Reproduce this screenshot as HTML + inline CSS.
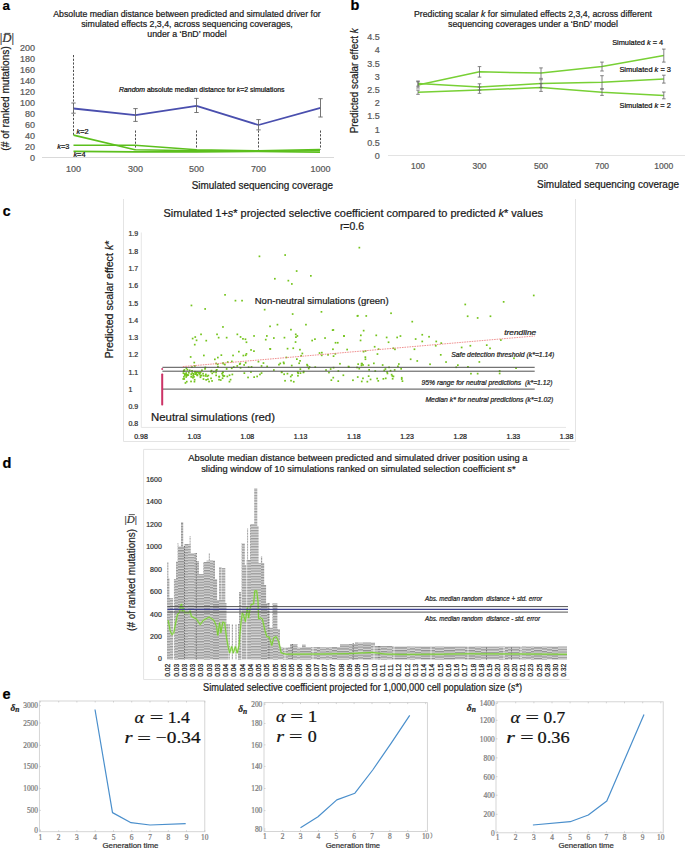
<!DOCTYPE html>
<html><head><meta charset="utf-8"><style>
html,body{margin:0;padding:0;background:#fff;}
svg{display:block;}

</style></head><body>
<svg width="685" height="850" viewBox="0 0 685 850" font-family="&quot;Liberation Sans&quot;, sans-serif">
<rect width="685" height="850" fill="#fff"/>
<text x="2.5" y="10.0" font-size="13.3" fill="#000" font-weight="bold"  stroke="#000" stroke-width="0.22">a</text>
<text x="350.5" y="9.9" font-size="14.5" fill="#000" font-weight="bold"  stroke="#000" stroke-width="0.22">b</text>
<text x="2.7" y="215.5" font-size="14" fill="#000" font-weight="bold"  stroke="#000" stroke-width="0.22">c</text>
<text x="2.5" y="468.3" font-size="14.5" fill="#000" font-weight="bold"  stroke="#000" stroke-width="0.22">d</text>
<text x="2.5" y="699.0" font-size="14.5" fill="#000" font-weight="bold"  stroke="#000" stroke-width="0.22">e</text>
<text x="187.0" y="17.0" font-size="8.8" fill="#1a1a1a" text-anchor="middle" textLength="267.4" lengthAdjust="spacingAndGlyphs"  stroke="#1a1a1a" stroke-width="0.22">Absolute median distance between predicted and simulated driver for</text>
<text x="187.0" y="27.3" font-size="8.8" fill="#1a1a1a" text-anchor="middle"  stroke="#1a1a1a" stroke-width="0.22">simulated effects 2,3,4, across sequencing coverages,</text>
<text x="187.0" y="36.7" font-size="8.8" fill="#1a1a1a" text-anchor="middle"  stroke="#1a1a1a" stroke-width="0.22">under a ‘BnD’ model</text>
<text x="35.0" y="161.2" font-size="9" fill="#595959" text-anchor="end"  stroke="#595959" stroke-width="0.22">0</text>
<text x="35.0" y="150.2" font-size="9" fill="#595959" text-anchor="end"  stroke="#595959" stroke-width="0.22">20</text>
<text x="35.0" y="139.2" font-size="9" fill="#595959" text-anchor="end"  stroke="#595959" stroke-width="0.22">40</text>
<text x="35.0" y="128.2" font-size="9" fill="#595959" text-anchor="end"  stroke="#595959" stroke-width="0.22">60</text>
<text x="35.0" y="117.2" font-size="9" fill="#595959" text-anchor="end"  stroke="#595959" stroke-width="0.22">80</text>
<text x="35.0" y="106.2" font-size="9" fill="#595959" text-anchor="end"  stroke="#595959" stroke-width="0.22">100</text>
<text x="35.0" y="95.2" font-size="9" fill="#595959" text-anchor="end"  stroke="#595959" stroke-width="0.22">120</text>
<text x="35.0" y="84.2" font-size="9" fill="#595959" text-anchor="end"  stroke="#595959" stroke-width="0.22">140</text>
<text x="35.0" y="73.2" font-size="9" fill="#595959" text-anchor="end"  stroke="#595959" stroke-width="0.22">160</text>
<text x="35.0" y="62.2" font-size="9" fill="#595959" text-anchor="end"  stroke="#595959" stroke-width="0.22">180</text>
<text x="35.0" y="51.2" font-size="9" fill="#595959" text-anchor="end"  stroke="#595959" stroke-width="0.22">200</text>
<line x1="42.0" y1="157.5" x2="334.0" y2="157.5" stroke="#d9d9d9" stroke-width="1" />
<text x="73.5" y="171.8" font-size="9" fill="#595959" text-anchor="middle"  stroke="#595959" stroke-width="0.22">100</text>
<text x="135.5" y="171.8" font-size="9" fill="#595959" text-anchor="middle"  stroke="#595959" stroke-width="0.22">300</text>
<text x="196.5" y="171.8" font-size="9" fill="#595959" text-anchor="middle"  stroke="#595959" stroke-width="0.22">500</text>
<text x="258.5" y="171.8" font-size="9" fill="#595959" text-anchor="middle"  stroke="#595959" stroke-width="0.22">700</text>
<text x="320.5" y="171.8" font-size="9" fill="#595959" text-anchor="middle"  stroke="#595959" stroke-width="0.22">1000</text>
<text x="262.3" y="189.0" font-size="10" fill="#1a1a1a" text-anchor="middle" textLength="141.3" lengthAdjust="spacingAndGlyphs"  stroke="#1a1a1a" stroke-width="0.22">Simulated sequencing coverage</text>
<text transform="translate(9.0,98.4) rotate(-90)" font-size="11" fill="#1a1a1a" text-anchor="middle" textLength="104.5" lengthAdjust="spacingAndGlyphs" stroke="#1a1a1a" stroke-width="0.22">(# of ranked mutations)</text>
<text x="-0.3" y="42" font-size="12" fill="#333" font-family='"Liberation Serif", serif' textLength="14.3" lengthAdjust="spacingAndGlyphs" stroke="#333" stroke-width="0.22">|<tspan font-style="italic">D</tspan>|</text>
<line x1="4.6" y1="33.4" x2="10.4" y2="33.4" stroke="#333" stroke-width="0.9" />
<text x="119" y="92" font-size="6.6" fill="#111" textLength="165.5" lengthAdjust="spacingAndGlyphs" stroke="#111" stroke-width="0.22"><tspan font-style="italic">Random</tspan> absolute median distance for <tspan font-style="italic">k</tspan>=2 simulations</text>
<line x1="73.5" y1="55.0" x2="73.5" y2="135.0" stroke="#3a3a3a" stroke-width="0.9" stroke-dasharray="2.2,1.5"/>
<line x1="135.5" y1="130.5" x2="135.5" y2="149.5" stroke="#3a3a3a" stroke-width="0.9" stroke-dasharray="2.2,1.5"/>
<line x1="196.5" y1="130.5" x2="196.5" y2="149.5" stroke="#3a3a3a" stroke-width="0.9" stroke-dasharray="2.2,1.5"/>
<line x1="258.5" y1="130.5" x2="258.5" y2="149.5" stroke="#3a3a3a" stroke-width="0.9" stroke-dasharray="2.2,1.5"/>
<line x1="320.5" y1="130.5" x2="320.5" y2="149.5" stroke="#3a3a3a" stroke-width="0.9" stroke-dasharray="2.2,1.5"/>
<polyline points="73.5,135.1 135.0,149.8 196.5,150.8 258.2,151.1 320.0,150.8" fill="none" stroke="#5cbf1d" stroke-width="1.6" stroke-linejoin="round" />
<polyline points="73.5,145.3 135.0,145.3 196.5,149.8 258.2,150.8 320.0,149.5" fill="none" stroke="#5cbf1d" stroke-width="1.6" stroke-linejoin="round" />
<polyline points="73.5,151.4 135.0,151.9 196.5,151.9 258.2,151.4 320.0,152.2" fill="none" stroke="#5cbf1d" stroke-width="1.6" stroke-linejoin="round" />
<polyline points="73.5,108.5 135.5,115.1 196.5,105.8 258.5,125.0 320.5,107.9" fill="none" stroke="#4a4fae" stroke-width="1.8" stroke-linejoin="round" />
<line x1="73.5" y1="103.0" x2="73.5" y2="113.2" stroke="#666" stroke-width="0.9" />
<line x1="71.3" y1="103.0" x2="75.7" y2="103.0" stroke="#666" stroke-width="0.9" />
<line x1="71.3" y1="113.2" x2="75.7" y2="113.2" stroke="#666" stroke-width="0.9" />
<line x1="135.5" y1="108.6" x2="135.5" y2="121.4" stroke="#666" stroke-width="0.9" />
<line x1="133.3" y1="108.6" x2="137.7" y2="108.6" stroke="#666" stroke-width="0.9" />
<line x1="133.3" y1="121.4" x2="137.7" y2="121.4" stroke="#666" stroke-width="0.9" />
<line x1="196.5" y1="98.4" x2="196.5" y2="112.5" stroke="#666" stroke-width="0.9" />
<line x1="194.3" y1="98.4" x2="198.7" y2="98.4" stroke="#666" stroke-width="0.9" />
<line x1="194.3" y1="112.5" x2="198.7" y2="112.5" stroke="#666" stroke-width="0.9" />
<line x1="258.5" y1="119.6" x2="258.5" y2="129.9" stroke="#666" stroke-width="0.9" />
<line x1="256.3" y1="119.6" x2="260.7" y2="119.6" stroke="#666" stroke-width="0.9" />
<line x1="256.3" y1="129.9" x2="260.7" y2="129.9" stroke="#666" stroke-width="0.9" />
<line x1="320.5" y1="98.7" x2="320.5" y2="117.0" stroke="#666" stroke-width="0.9" />
<line x1="318.3" y1="98.7" x2="322.7" y2="98.7" stroke="#666" stroke-width="0.9" />
<line x1="318.3" y1="117.0" x2="322.7" y2="117.0" stroke="#666" stroke-width="0.9" />
<text x="76.5" y="134.2" font-size="7.4" fill="#111" stroke="#111" stroke-width="0.22"><tspan font-style="italic">k</tspan>=2</text>
<text x="57.3" y="149.4" font-size="7.4" fill="#111" stroke="#111" stroke-width="0.22"><tspan font-style="italic">k</tspan>=3</text>
<text x="73.4" y="157.2" font-size="7.4" fill="#111" stroke="#111" stroke-width="0.22"><tspan font-style="italic">k</tspan>=4</text>
<text x="533.0" y="16.6" font-size="8.8" fill="#1a1a1a" text-anchor="middle" textLength="238.0" lengthAdjust="spacingAndGlyphs"  stroke="#1a1a1a" stroke-width="0.22">Predicting scalar <tspan font-style="italic">k</tspan> for simulated effects 2,3,4, across different</text>
<text x="533.0" y="26.6" font-size="8.8" fill="#1a1a1a" text-anchor="middle"  stroke="#1a1a1a" stroke-width="0.22">sequencing coverages under a ‘BnD’ model</text>
<text x="379.7" y="158.9" font-size="9" fill="#595959" text-anchor="end"  stroke="#595959" stroke-width="0.22">0</text>
<text x="379.7" y="145.7" font-size="9" fill="#595959" text-anchor="end"  stroke="#595959" stroke-width="0.22">0.5</text>
<text x="379.7" y="132.5" font-size="9" fill="#595959" text-anchor="end"  stroke="#595959" stroke-width="0.22">1</text>
<text x="379.7" y="119.3" font-size="9" fill="#595959" text-anchor="end"  stroke="#595959" stroke-width="0.22">1.5</text>
<text x="379.7" y="106.1" font-size="9" fill="#595959" text-anchor="end"  stroke="#595959" stroke-width="0.22">2</text>
<text x="379.7" y="92.9" font-size="9" fill="#595959" text-anchor="end"  stroke="#595959" stroke-width="0.22">2.5</text>
<text x="379.7" y="79.7" font-size="9" fill="#595959" text-anchor="end"  stroke="#595959" stroke-width="0.22">3</text>
<text x="379.7" y="66.5" font-size="9" fill="#595959" text-anchor="end"  stroke="#595959" stroke-width="0.22">3.5</text>
<text x="379.7" y="53.3" font-size="9" fill="#595959" text-anchor="end"  stroke="#595959" stroke-width="0.22">4</text>
<text x="379.7" y="40.1" font-size="9" fill="#595959" text-anchor="end"  stroke="#595959" stroke-width="0.22">4.5</text>
<line x1="388.0" y1="155.5" x2="685.0" y2="155.5" stroke="#e3e3e3" stroke-width="1" />
<text x="418.0" y="169.0" font-size="8.5" fill="#595959" text-anchor="middle"  stroke="#595959" stroke-width="0.22">100</text>
<text x="479.5" y="169.0" font-size="8.5" fill="#595959" text-anchor="middle"  stroke="#595959" stroke-width="0.22">300</text>
<text x="541.0" y="169.0" font-size="8.5" fill="#595959" text-anchor="middle"  stroke="#595959" stroke-width="0.22">500</text>
<text x="602.0" y="169.0" font-size="8.5" fill="#595959" text-anchor="middle"  stroke="#595959" stroke-width="0.22">700</text>
<text x="663.8" y="169.0" font-size="8.5" fill="#595959" text-anchor="middle"  stroke="#595959" stroke-width="0.22">1000</text>
<text x="608.0" y="187.5" font-size="10" fill="#1a1a1a" text-anchor="middle" textLength="142.0" lengthAdjust="spacingAndGlyphs"  stroke="#1a1a1a" stroke-width="0.22">Simulated sequencing coverage</text>
<text transform="translate(358.1,80.8) rotate(-90)" font-size="10" fill="#1a1a1a" text-anchor="middle" textLength="105" lengthAdjust="spacingAndGlyphs" stroke="#1a1a1a" stroke-width="0.22">Predicted scalar effect <tspan font-style="italic">k</tspan></text>
<polyline points="418.0,84.9 479.5,71.8 541.0,73.1 602.0,66.6 663.8,55.6" fill="none" stroke="#78d035" stroke-width="1.5" stroke-linejoin="round" />
<polyline points="418.0,83.6 479.5,87.0 541.0,83.6 602.0,82.3 663.8,79.1" fill="none" stroke="#78d035" stroke-width="1.5" stroke-linejoin="round" />
<polyline points="418.0,92.2 479.5,90.1 541.0,87.5 602.0,92.2 663.8,95.4" fill="none" stroke="#78d035" stroke-width="1.5" stroke-linejoin="round" />
<line x1="418.0" y1="81.8" x2="418.0" y2="88.0" stroke="#666" stroke-width="0.8" />
<line x1="416.2" y1="81.8" x2="419.8" y2="81.8" stroke="#666" stroke-width="0.8" />
<line x1="416.2" y1="88.0" x2="419.8" y2="88.0" stroke="#666" stroke-width="0.8" />
<line x1="479.5" y1="66.6" x2="479.5" y2="77.1" stroke="#666" stroke-width="0.8" />
<line x1="477.7" y1="66.6" x2="481.3" y2="66.6" stroke="#666" stroke-width="0.8" />
<line x1="477.7" y1="77.1" x2="481.3" y2="77.1" stroke="#666" stroke-width="0.8" />
<line x1="541.0" y1="67.9" x2="541.0" y2="78.4" stroke="#666" stroke-width="0.8" />
<line x1="539.2" y1="67.9" x2="542.8" y2="67.9" stroke="#666" stroke-width="0.8" />
<line x1="539.2" y1="78.4" x2="542.8" y2="78.4" stroke="#666" stroke-width="0.8" />
<line x1="602.0" y1="62.1" x2="602.0" y2="71.0" stroke="#666" stroke-width="0.8" />
<line x1="600.2" y1="62.1" x2="603.8" y2="62.1" stroke="#666" stroke-width="0.8" />
<line x1="600.2" y1="71.0" x2="603.8" y2="71.0" stroke="#666" stroke-width="0.8" />
<line x1="663.8" y1="49.1" x2="663.8" y2="62.1" stroke="#666" stroke-width="0.8" />
<line x1="662.0" y1="49.1" x2="665.6" y2="49.1" stroke="#666" stroke-width="0.8" />
<line x1="662.0" y1="62.1" x2="665.6" y2="62.1" stroke="#666" stroke-width="0.8" />
<line x1="418.0" y1="81.0" x2="418.0" y2="86.2" stroke="#666" stroke-width="0.8" />
<line x1="416.2" y1="81.0" x2="419.8" y2="81.0" stroke="#666" stroke-width="0.8" />
<line x1="416.2" y1="86.2" x2="419.8" y2="86.2" stroke="#666" stroke-width="0.8" />
<line x1="479.5" y1="83.8" x2="479.5" y2="90.1" stroke="#666" stroke-width="0.8" />
<line x1="477.7" y1="83.8" x2="481.3" y2="83.8" stroke="#666" stroke-width="0.8" />
<line x1="477.7" y1="90.1" x2="481.3" y2="90.1" stroke="#666" stroke-width="0.8" />
<line x1="541.0" y1="79.7" x2="541.0" y2="87.5" stroke="#666" stroke-width="0.8" />
<line x1="539.2" y1="79.7" x2="542.8" y2="79.7" stroke="#666" stroke-width="0.8" />
<line x1="539.2" y1="87.5" x2="542.8" y2="87.5" stroke="#666" stroke-width="0.8" />
<line x1="602.0" y1="75.7" x2="602.0" y2="88.8" stroke="#666" stroke-width="0.8" />
<line x1="600.2" y1="75.7" x2="603.8" y2="75.7" stroke="#666" stroke-width="0.8" />
<line x1="600.2" y1="88.8" x2="603.8" y2="88.8" stroke="#666" stroke-width="0.8" />
<line x1="663.8" y1="75.2" x2="663.8" y2="83.1" stroke="#666" stroke-width="0.8" />
<line x1="662.0" y1="75.2" x2="665.6" y2="75.2" stroke="#666" stroke-width="0.8" />
<line x1="662.0" y1="83.1" x2="665.6" y2="83.1" stroke="#666" stroke-width="0.8" />
<line x1="418.0" y1="90.1" x2="418.0" y2="94.3" stroke="#666" stroke-width="0.8" />
<line x1="416.2" y1="90.1" x2="419.8" y2="90.1" stroke="#666" stroke-width="0.8" />
<line x1="416.2" y1="94.3" x2="419.8" y2="94.3" stroke="#666" stroke-width="0.8" />
<line x1="479.5" y1="87.0" x2="479.5" y2="93.3" stroke="#666" stroke-width="0.8" />
<line x1="477.7" y1="87.0" x2="481.3" y2="87.0" stroke="#666" stroke-width="0.8" />
<line x1="477.7" y1="93.3" x2="481.3" y2="93.3" stroke="#666" stroke-width="0.8" />
<line x1="541.0" y1="83.6" x2="541.0" y2="91.4" stroke="#666" stroke-width="0.8" />
<line x1="539.2" y1="83.6" x2="542.8" y2="83.6" stroke="#666" stroke-width="0.8" />
<line x1="539.2" y1="91.4" x2="542.8" y2="91.4" stroke="#666" stroke-width="0.8" />
<line x1="602.0" y1="89.1" x2="602.0" y2="95.4" stroke="#666" stroke-width="0.8" />
<line x1="600.2" y1="89.1" x2="603.8" y2="89.1" stroke="#666" stroke-width="0.8" />
<line x1="600.2" y1="95.4" x2="603.8" y2="95.4" stroke="#666" stroke-width="0.8" />
<line x1="663.8" y1="92.0" x2="663.8" y2="98.8" stroke="#666" stroke-width="0.8" />
<line x1="662.0" y1="92.0" x2="665.6" y2="92.0" stroke="#666" stroke-width="0.8" />
<line x1="662.0" y1="98.8" x2="665.6" y2="98.8" stroke="#666" stroke-width="0.8" />
<text x="612.2" y="45.4" font-size="7.4" fill="#111" textLength="51" lengthAdjust="spacingAndGlyphs" stroke="#111" stroke-width="0.22">Simulated <tspan font-style="italic">k</tspan> = 4</text>
<text x="619.4" y="72.2" font-size="7.4" fill="#111" textLength="51.6" lengthAdjust="spacingAndGlyphs" stroke="#111" stroke-width="0.22">Simulated <tspan font-style="italic">k</tspan> = 3</text>
<text x="619.5" y="108.3" font-size="7.4" fill="#111" textLength="51.3" lengthAdjust="spacingAndGlyphs" stroke="#111" stroke-width="0.22">Simulated <tspan font-style="italic">k</tspan> = 2</text>
<path d="M123.5,199 V441.5 H575.5 V199" fill="none" stroke="#e4e4e4" stroke-width="1"/>
<text x="353.3" y="217.0" font-size="10.5" fill="#1a1a1a" text-anchor="middle" textLength="379.5" lengthAdjust="spacingAndGlyphs"  stroke="#1a1a1a" stroke-width="0.22">Simulated 1+<tspan font-style="italic">s</tspan>* projected selective coefficient compared to predicted <tspan font-style="italic">k</tspan>* values</text>
<text x="352.0" y="230.2" font-size="10.5" fill="#1a1a1a" text-anchor="middle"  stroke="#1a1a1a" stroke-width="0.22">r=0.6</text>
<text x="128.4" y="426.4" font-size="7" fill="#333"  stroke="#333" stroke-width="0.22">0.8</text>
<text x="128.4" y="409.1" font-size="7" fill="#333"  stroke="#333" stroke-width="0.22">0.9</text>
<text x="128.4" y="391.9" font-size="7" fill="#333"  stroke="#333" stroke-width="0.22">1</text>
<text x="128.4" y="374.6" font-size="7" fill="#333"  stroke="#333" stroke-width="0.22">1.1</text>
<text x="128.4" y="357.3" font-size="7" fill="#333"  stroke="#333" stroke-width="0.22">1.2</text>
<text x="128.4" y="340.0" font-size="7" fill="#333"  stroke="#333" stroke-width="0.22">1.3</text>
<text x="128.4" y="322.8" font-size="7" fill="#333"  stroke="#333" stroke-width="0.22">1.4</text>
<text x="128.4" y="305.5" font-size="7" fill="#333"  stroke="#333" stroke-width="0.22">1.5</text>
<text x="128.4" y="288.2" font-size="7" fill="#333"  stroke="#333" stroke-width="0.22">1.6</text>
<text x="128.4" y="271.0" font-size="7" fill="#333"  stroke="#333" stroke-width="0.22">1.7</text>
<text x="128.4" y="253.7" font-size="7" fill="#333"  stroke="#333" stroke-width="0.22">1.8</text>
<text x="128.4" y="236.4" font-size="7" fill="#333"  stroke="#333" stroke-width="0.22">1.9</text>
<line x1="141.3" y1="232.5" x2="141.3" y2="427.5" stroke="#e6e6e6" stroke-width="1" />
<line x1="141.3" y1="427.4" x2="566.0" y2="427.4" stroke="#e6e6e6" stroke-width="1" />
<text x="141.0" y="438.8" font-size="7" fill="#222" text-anchor="middle"  stroke="#222" stroke-width="0.22">0.98</text>
<text x="194.2" y="438.8" font-size="7" fill="#222" text-anchor="middle"  stroke="#222" stroke-width="0.22">1.03</text>
<text x="247.4" y="438.8" font-size="7" fill="#222" text-anchor="middle"  stroke="#222" stroke-width="0.22">1.08</text>
<text x="300.6" y="438.8" font-size="7" fill="#222" text-anchor="middle"  stroke="#222" stroke-width="0.22">1.13</text>
<text x="353.8" y="438.8" font-size="7" fill="#222" text-anchor="middle"  stroke="#222" stroke-width="0.22">1.18</text>
<text x="407.0" y="438.8" font-size="7" fill="#222" text-anchor="middle"  stroke="#222" stroke-width="0.22">1.23</text>
<text x="460.2" y="438.8" font-size="7" fill="#222" text-anchor="middle"  stroke="#222" stroke-width="0.22">1.28</text>
<text x="513.4" y="438.8" font-size="7" fill="#222" text-anchor="middle"  stroke="#222" stroke-width="0.22">1.33</text>
<text x="566.6" y="438.8" font-size="7" fill="#222" text-anchor="middle"  stroke="#222" stroke-width="0.22">1.38</text>
<text transform="translate(113.2,299.6) rotate(-90)" font-size="10.6" fill="#1a1a1a" text-anchor="middle" textLength="118" lengthAdjust="spacingAndGlyphs" stroke="#1a1a1a" stroke-width="0.22">Predicted scalar effect <tspan font-style="italic">k</tspan>*</text>
<g fill="#74c41c"><rect x="258.6" y="255.5" width="1.7" height="1.7"/><rect x="284.3" y="254.2" width="1.7" height="1.7"/><rect x="295.8" y="270.2" width="1.7" height="1.7"/><rect x="310.0" y="275.0" width="1.7" height="1.7"/><rect x="274.0" y="277.9" width="1.7" height="1.7"/><rect x="287.5" y="279.8" width="1.7" height="1.7"/><rect x="291.0" y="283.1" width="1.7" height="1.7"/><rect x="358.5" y="246.8" width="1.7" height="1.7"/><rect x="224.2" y="294.0" width="1.7" height="1.7"/><rect x="234.6" y="299.8" width="1.7" height="1.7"/><rect x="241.2" y="299.8" width="1.7" height="1.7"/><rect x="190.6" y="304.6" width="1.7" height="1.7"/><rect x="204.3" y="308.1" width="1.7" height="1.7"/><rect x="263.8" y="308.8" width="1.7" height="1.7"/><rect x="291.8" y="313.2" width="1.7" height="1.7"/><rect x="320.6" y="311.0" width="1.7" height="1.7"/><rect x="356.9" y="314.9" width="1.7" height="1.7"/><rect x="222.1" y="326.1" width="1.7" height="1.7"/><rect x="269.2" y="325.5" width="1.7" height="1.7"/><rect x="276.6" y="323.8" width="1.7" height="1.7"/><rect x="305.1" y="323.8" width="1.7" height="1.7"/><rect x="290.1" y="328.8" width="1.7" height="1.7"/><rect x="331.8" y="329.3" width="1.7" height="1.7"/><rect x="200.2" y="333.5" width="1.7" height="1.7"/><rect x="216.2" y="333.5" width="1.7" height="1.7"/><rect x="217.8" y="336.8" width="1.7" height="1.7"/><rect x="225.8" y="336.8" width="1.7" height="1.7"/><rect x="236.5" y="333.5" width="1.7" height="1.7"/><rect x="239.7" y="336.1" width="1.7" height="1.7"/><rect x="253.2" y="335.1" width="1.7" height="1.7"/><rect x="266.0" y="335.1" width="1.7" height="1.7"/><rect x="283.6" y="336.8" width="1.7" height="1.7"/><rect x="294.9" y="333.5" width="1.7" height="1.7"/><rect x="296.5" y="335.1" width="1.7" height="1.7"/><rect x="314.1" y="338.3" width="1.7" height="1.7"/><rect x="343.1" y="335.1" width="1.7" height="1.7"/><rect x="464.4" y="303.6" width="1.7" height="1.7"/><rect x="502.8" y="301.0" width="1.7" height="1.7"/><rect x="532.9" y="294.6" width="1.7" height="1.7"/><rect x="466.8" y="315.4" width="1.7" height="1.7"/><rect x="476.8" y="317.1" width="1.7" height="1.7"/><rect x="489.6" y="315.4" width="1.7" height="1.7"/><rect x="356.6" y="315.1" width="1.7" height="1.7"/><rect x="365.4" y="315.1" width="1.7" height="1.7"/><rect x="390.2" y="312.4" width="1.7" height="1.7"/><rect x="411.4" y="320.8" width="1.7" height="1.7"/><rect x="332.5" y="329.1" width="1.7" height="1.7"/><rect x="343.2" y="335.2" width="1.7" height="1.7"/><rect x="362.8" y="329.8" width="1.7" height="1.7"/><rect x="360.0" y="334.5" width="1.7" height="1.7"/><rect x="375.4" y="334.5" width="1.7" height="1.7"/><rect x="396.3" y="336.6" width="1.7" height="1.7"/><rect x="399.6" y="335.2" width="1.7" height="1.7"/><rect x="421.4" y="333.9" width="1.7" height="1.7"/><rect x="428.2" y="335.9" width="1.7" height="1.7"/><rect x="414.8" y="338.2" width="1.7" height="1.7"/><rect x="421.4" y="340.6" width="1.7" height="1.7"/><rect x="434.9" y="344.9" width="1.7" height="1.7"/><rect x="439.9" y="354.0" width="1.7" height="1.7"/><rect x="460.8" y="346.6" width="1.7" height="1.7"/><rect x="469.5" y="344.9" width="1.7" height="1.7"/><rect x="485.9" y="344.3" width="1.7" height="1.7"/><rect x="409.8" y="358.4" width="1.7" height="1.7"/><rect x="416.4" y="360.1" width="1.7" height="1.7"/><rect x="429.2" y="363.4" width="1.7" height="1.7"/><rect x="478.5" y="361.1" width="1.7" height="1.7"/><rect x="513.1" y="357.4" width="1.7" height="1.7"/><rect x="470.1" y="372.8" width="1.7" height="1.7"/><rect x="476.8" y="372.8" width="1.7" height="1.7"/><rect x="498.8" y="370.1" width="1.7" height="1.7"/><rect x="498.8" y="372.6" width="1.7" height="1.7"/><rect x="192.1" y="376.9" width="1.7" height="1.7"/><rect x="183.4" y="378.1" width="1.7" height="1.7"/><rect x="202.2" y="372.8" width="1.7" height="1.7"/><rect x="200.7" y="374.6" width="1.7" height="1.7"/><rect x="182.6" y="372.3" width="1.7" height="1.7"/><rect x="183.8" y="374.2" width="1.7" height="1.7"/><rect x="196.6" y="374.6" width="1.7" height="1.7"/><rect x="188.0" y="371.9" width="1.7" height="1.7"/><rect x="207.1" y="378.4" width="1.7" height="1.7"/><rect x="195.3" y="372.0" width="1.7" height="1.7"/><rect x="228.6" y="380.8" width="1.7" height="1.7"/><rect x="190.6" y="375.8" width="1.7" height="1.7"/><rect x="185.3" y="376.1" width="1.7" height="1.7"/><rect x="218.3" y="375.9" width="1.7" height="1.7"/><rect x="186.5" y="368.9" width="1.7" height="1.7"/><rect x="194.2" y="371.0" width="1.7" height="1.7"/><rect x="202.8" y="374.9" width="1.7" height="1.7"/><rect x="187.4" y="374.2" width="1.7" height="1.7"/><rect x="210.1" y="370.7" width="1.7" height="1.7"/><rect x="204.8" y="375.1" width="1.7" height="1.7"/><rect x="198.0" y="371.6" width="1.7" height="1.7"/><rect x="211.2" y="380.1" width="1.7" height="1.7"/><rect x="188.8" y="369.5" width="1.7" height="1.7"/><rect x="222.0" y="371.6" width="1.7" height="1.7"/><rect x="213.0" y="371.1" width="1.7" height="1.7"/><rect x="184.6" y="382.1" width="1.7" height="1.7"/><rect x="196.3" y="373.7" width="1.7" height="1.7"/><rect x="199.8" y="371.5" width="1.7" height="1.7"/><rect x="182.7" y="370.5" width="1.7" height="1.7"/><rect x="204.2" y="368.0" width="1.7" height="1.7"/><rect x="222.0" y="371.4" width="1.7" height="1.7"/><rect x="205.3" y="379.0" width="1.7" height="1.7"/><rect x="204.5" y="366.6" width="1.7" height="1.7"/><rect x="226.5" y="375.6" width="1.7" height="1.7"/><rect x="199.0" y="373.0" width="1.7" height="1.7"/><rect x="211.4" y="372.5" width="1.7" height="1.7"/><rect x="208.2" y="380.7" width="1.7" height="1.7"/><rect x="190.4" y="373.3" width="1.7" height="1.7"/><rect x="194.8" y="373.3" width="1.7" height="1.7"/><rect x="198.4" y="372.9" width="1.7" height="1.7"/><rect x="186.1" y="374.6" width="1.7" height="1.7"/><rect x="215.3" y="374.5" width="1.7" height="1.7"/><rect x="184.9" y="373.7" width="1.7" height="1.7"/><rect x="221.7" y="377.4" width="1.7" height="1.7"/><rect x="183.6" y="369.1" width="1.7" height="1.7"/><rect x="222.5" y="375.2" width="1.7" height="1.7"/><rect x="218.5" y="375.7" width="1.7" height="1.7"/><rect x="196.2" y="371.3" width="1.7" height="1.7"/><rect x="193.6" y="380.8" width="1.7" height="1.7"/><rect x="185.6" y="367.3" width="1.7" height="1.7"/><rect x="186.4" y="374.0" width="1.7" height="1.7"/><rect x="199.6" y="376.4" width="1.7" height="1.7"/><rect x="205.0" y="373.6" width="1.7" height="1.7"/><rect x="196.3" y="374.0" width="1.7" height="1.7"/><rect x="194.0" y="365.1" width="1.7" height="1.7"/><rect x="210.7" y="369.8" width="1.7" height="1.7"/><rect x="201.1" y="369.4" width="1.7" height="1.7"/><rect x="183.0" y="369.8" width="1.7" height="1.7"/><rect x="223.5" y="375.1" width="1.7" height="1.7"/><rect x="217.1" y="366.0" width="1.7" height="1.7"/><rect x="195.1" y="372.2" width="1.7" height="1.7"/><rect x="207.5" y="374.7" width="1.7" height="1.7"/><rect x="183.1" y="376.0" width="1.7" height="1.7"/><rect x="185.9" y="374.7" width="1.7" height="1.7"/><rect x="192.8" y="373.7" width="1.7" height="1.7"/><rect x="185.6" y="373.7" width="1.7" height="1.7"/><rect x="184.1" y="373.1" width="1.7" height="1.7"/><rect x="221.9" y="374.3" width="1.7" height="1.7"/><rect x="206.4" y="375.4" width="1.7" height="1.7"/><rect x="193.1" y="376.0" width="1.7" height="1.7"/><rect x="193.8" y="378.9" width="1.7" height="1.7"/><rect x="229.7" y="378.8" width="1.7" height="1.7"/><rect x="198.6" y="372.0" width="1.7" height="1.7"/><rect x="184.1" y="373.8" width="1.7" height="1.7"/><rect x="192.9" y="373.0" width="1.7" height="1.7"/><rect x="185.9" y="380.8" width="1.7" height="1.7"/><rect x="182.4" y="378.1" width="1.7" height="1.7"/><rect x="185.4" y="372.2" width="1.7" height="1.7"/><rect x="202.6" y="378.2" width="1.7" height="1.7"/><rect x="228.7" y="374.4" width="1.7" height="1.7"/><rect x="221.2" y="372.7" width="1.7" height="1.7"/><rect x="193.9" y="370.9" width="1.7" height="1.7"/><rect x="186.1" y="374.3" width="1.7" height="1.7"/><rect x="216.0" y="369.0" width="1.7" height="1.7"/><rect x="192.3" y="374.8" width="1.7" height="1.7"/><rect x="400.9" y="378.2" width="1.7" height="1.7"/><rect x="362.1" y="377.5" width="1.7" height="1.7"/><rect x="347.7" y="365.7" width="1.7" height="1.7"/><rect x="299.5" y="368.3" width="1.7" height="1.7"/><rect x="193.4" y="361.7" width="1.7" height="1.7"/><rect x="247.8" y="366.3" width="1.7" height="1.7"/><rect x="337.4" y="380.3" width="1.7" height="1.7"/><rect x="284.2" y="379.9" width="1.7" height="1.7"/><rect x="401.6" y="380.3" width="1.7" height="1.7"/><rect x="266.3" y="365.6" width="1.7" height="1.7"/><rect x="236.4" y="365.1" width="1.7" height="1.7"/><rect x="231.5" y="373.6" width="1.7" height="1.7"/><rect x="382.5" y="378.0" width="1.7" height="1.7"/><rect x="291.2" y="374.2" width="1.7" height="1.7"/><rect x="360.7" y="362.8" width="1.7" height="1.7"/><rect x="330.5" y="379.3" width="1.7" height="1.7"/><rect x="356.9" y="376.2" width="1.7" height="1.7"/><rect x="290.9" y="364.7" width="1.7" height="1.7"/><rect x="358.4" y="367.8" width="1.7" height="1.7"/><rect x="360.9" y="380.6" width="1.7" height="1.7"/><rect x="273.0" y="369.2" width="1.7" height="1.7"/><rect x="392.6" y="375.6" width="1.7" height="1.7"/><rect x="224.0" y="363.7" width="1.7" height="1.7"/><rect x="219.9" y="379.2" width="1.7" height="1.7"/><rect x="362.2" y="364.1" width="1.7" height="1.7"/><rect x="366.5" y="380.8" width="1.7" height="1.7"/><rect x="329.8" y="368.2" width="1.7" height="1.7"/><rect x="306.2" y="363.8" width="1.7" height="1.7"/><rect x="190.2" y="380.6" width="1.7" height="1.7"/><rect x="328.1" y="371.7" width="1.7" height="1.7"/><rect x="389.7" y="369.8" width="1.7" height="1.7"/><rect x="376.3" y="377.7" width="1.7" height="1.7"/><rect x="232.9" y="366.2" width="1.7" height="1.7"/><rect x="250.7" y="366.0" width="1.7" height="1.7"/><rect x="314.4" y="366.3" width="1.7" height="1.7"/><rect x="278.1" y="363.8" width="1.7" height="1.7"/><rect x="384.6" y="368.2" width="1.7" height="1.7"/><rect x="286.6" y="372.8" width="1.7" height="1.7"/><rect x="383.4" y="369.6" width="1.7" height="1.7"/><rect x="386.3" y="371.2" width="1.7" height="1.7"/><rect x="302.6" y="371.6" width="1.7" height="1.7"/><rect x="191.2" y="370.0" width="1.7" height="1.7"/><rect x="226.9" y="361.2" width="1.7" height="1.7"/><rect x="360.6" y="364.6" width="1.7" height="1.7"/><rect x="289.9" y="375.7" width="1.7" height="1.7"/><rect x="307.9" y="367.7" width="1.7" height="1.7"/><rect x="299.6" y="372.3" width="1.7" height="1.7"/><rect x="357.3" y="363.3" width="1.7" height="1.7"/><rect x="308.7" y="366.1" width="1.7" height="1.7"/><rect x="247.2" y="376.6" width="1.7" height="1.7"/><rect x="297.3" y="372.4" width="1.7" height="1.7"/><rect x="352.1" y="379.4" width="1.7" height="1.7"/><rect x="283.3" y="373.4" width="1.7" height="1.7"/><rect x="296.9" y="371.4" width="1.7" height="1.7"/><rect x="337.5" y="370.2" width="1.7" height="1.7"/><rect x="302.9" y="370.7" width="1.7" height="1.7"/><rect x="391.5" y="375.1" width="1.7" height="1.7"/><rect x="377.4" y="380.0" width="1.7" height="1.7"/><rect x="243.5" y="372.3" width="1.7" height="1.7"/><rect x="391.8" y="377.9" width="1.7" height="1.7"/><rect x="216.9" y="363.6" width="1.7" height="1.7"/><rect x="283.1" y="362.6" width="1.7" height="1.7"/><rect x="239.4" y="362.6" width="1.7" height="1.7"/><rect x="332.4" y="376.8" width="1.7" height="1.7"/><rect x="381.8" y="364.2" width="1.7" height="1.7"/><rect x="342.5" y="374.4" width="1.7" height="1.7"/><rect x="218.2" y="378.8" width="1.7" height="1.7"/><rect x="397.1" y="365.5" width="1.7" height="1.7"/><rect x="393.8" y="369.1" width="1.7" height="1.7"/><rect x="292.9" y="380.9" width="1.7" height="1.7"/><rect x="367.8" y="364.4" width="1.7" height="1.7"/><rect x="280.8" y="371.5" width="1.7" height="1.7"/><rect x="260.7" y="365.1" width="1.7" height="1.7"/><rect x="256.3" y="375.6" width="1.7" height="1.7"/><rect x="191.4" y="372.2" width="1.7" height="1.7"/><rect x="282.7" y="361.5" width="1.7" height="1.7"/><rect x="259.1" y="373.6" width="1.7" height="1.7"/><rect x="298.3" y="362.4" width="1.7" height="1.7"/><rect x="400.9" y="376.9" width="1.7" height="1.7"/><rect x="398.0" y="363.2" width="1.7" height="1.7"/><rect x="244.8" y="361.9" width="1.7" height="1.7"/><rect x="356.2" y="366.6" width="1.7" height="1.7"/><rect x="215.3" y="369.6" width="1.7" height="1.7"/><rect x="384.9" y="377.5" width="1.7" height="1.7"/><rect x="243.3" y="364.1" width="1.7" height="1.7"/><rect x="386.6" y="372.6" width="1.7" height="1.7"/><rect x="339.1" y="362.9" width="1.7" height="1.7"/><rect x="199.6" y="374.9" width="1.7" height="1.7"/><rect x="279.4" y="362.6" width="1.7" height="1.7"/><rect x="390.8" y="373.8" width="1.7" height="1.7"/><rect x="361.1" y="362.8" width="1.7" height="1.7"/><rect x="373.0" y="362.5" width="1.7" height="1.7"/><rect x="374.4" y="370.2" width="1.7" height="1.7"/><rect x="260.7" y="372.2" width="1.7" height="1.7"/><rect x="388.2" y="366.5" width="1.7" height="1.7"/><rect x="215.2" y="371.7" width="1.7" height="1.7"/><rect x="238.9" y="363.3" width="1.7" height="1.7"/><rect x="222.2" y="362.2" width="1.7" height="1.7"/><rect x="230.9" y="367.4" width="1.7" height="1.7"/><rect x="253.3" y="376.3" width="1.7" height="1.7"/><rect x="250.1" y="371.2" width="1.7" height="1.7"/><rect x="225.8" y="368.1" width="1.7" height="1.7"/><rect x="191.1" y="366.2" width="1.7" height="1.7"/><rect x="190.5" y="375.8" width="1.7" height="1.7"/><rect x="306.7" y="364.9" width="1.7" height="1.7"/><rect x="290.2" y="379.8" width="1.7" height="1.7"/><rect x="210.2" y="377.5" width="1.7" height="1.7"/><rect x="280.9" y="371.1" width="1.7" height="1.7"/><rect x="368.3" y="369.0" width="1.7" height="1.7"/><rect x="297.1" y="374.9" width="1.7" height="1.7"/><rect x="400.3" y="368.0" width="1.7" height="1.7"/><rect x="367.8" y="375.3" width="1.7" height="1.7"/><rect x="325.2" y="369.2" width="1.7" height="1.7"/><rect x="262.6" y="362.2" width="1.7" height="1.7"/><rect x="215.3" y="362.6" width="1.7" height="1.7"/><rect x="347.9" y="366.3" width="1.7" height="1.7"/><rect x="222.6" y="362.8" width="1.7" height="1.7"/><rect x="369.7" y="378.6" width="1.7" height="1.7"/><rect x="332.7" y="366.8" width="1.7" height="1.7"/><rect x="239.7" y="367.0" width="1.7" height="1.7"/><rect x="457.0" y="364.3" width="1.7" height="1.7"/><rect x="455.4" y="366.4" width="1.7" height="1.7"/><rect x="514.8" y="380.6" width="1.7" height="1.7"/><rect x="467.1" y="366.0" width="1.7" height="1.7"/><rect x="515.2" y="367.3" width="1.7" height="1.7"/><rect x="445.2" y="361.2" width="1.7" height="1.7"/><rect x="269.3" y="348.0" width="1.7" height="1.7"/><rect x="294.7" y="341.2" width="1.7" height="1.7"/><rect x="295.1" y="336.3" width="1.7" height="1.7"/><rect x="244.6" y="338.4" width="1.7" height="1.7"/><rect x="273.0" y="337.2" width="1.7" height="1.7"/><rect x="193.9" y="343.8" width="1.7" height="1.7"/><rect x="238.0" y="350.8" width="1.7" height="1.7"/><rect x="300.3" y="354.9" width="1.7" height="1.7"/><rect x="327.2" y="354.0" width="1.7" height="1.7"/><rect x="373.8" y="345.9" width="1.7" height="1.7"/><rect x="257.6" y="360.8" width="1.7" height="1.7"/><rect x="220.5" y="354.3" width="1.7" height="1.7"/><rect x="324.2" y="337.2" width="1.7" height="1.7"/><rect x="364.6" y="358.4" width="1.7" height="1.7"/><rect x="320.9" y="354.5" width="1.7" height="1.7"/><rect x="359.7" y="339.6" width="1.7" height="1.7"/><rect x="299.1" y="348.8" width="1.7" height="1.7"/><rect x="364.5" y="356.3" width="1.7" height="1.7"/><rect x="362.7" y="350.8" width="1.7" height="1.7"/><rect x="376.6" y="353.2" width="1.7" height="1.7"/><rect x="334.7" y="341.9" width="1.7" height="1.7"/><rect x="195.7" y="339.5" width="1.7" height="1.7"/><rect x="264.9" y="338.8" width="1.7" height="1.7"/><rect x="364.7" y="350.1" width="1.7" height="1.7"/><rect x="321.0" y="351.8" width="1.7" height="1.7"/><rect x="332.1" y="348.4" width="1.7" height="1.7"/><rect x="189.8" y="356.1" width="1.7" height="1.7"/><rect x="346.3" y="348.7" width="1.7" height="1.7"/><rect x="301.5" y="352.6" width="1.7" height="1.7"/><rect x="203.0" y="354.6" width="1.7" height="1.7"/><rect x="242.1" y="338.0" width="1.7" height="1.7"/><rect x="244.9" y="354.4" width="1.7" height="1.7"/><rect x="232.2" y="354.6" width="1.7" height="1.7"/><rect x="394.1" y="348.5" width="1.7" height="1.7"/><rect x="269.5" y="348.1" width="1.7" height="1.7"/><rect x="332.7" y="355.3" width="1.7" height="1.7"/><rect x="318.7" y="352.2" width="1.7" height="1.7"/><rect x="205.4" y="339.8" width="1.7" height="1.7"/><rect x="242.5" y="354.7" width="1.7" height="1.7"/><rect x="253.1" y="350.3" width="1.7" height="1.7"/><rect x="191.8" y="337.7" width="1.7" height="1.7"/><rect x="245.6" y="353.0" width="1.7" height="1.7"/><rect x="334.5" y="353.0" width="1.7" height="1.7"/><rect x="250.2" y="349.1" width="1.7" height="1.7"/><rect x="286.7" y="347.8" width="1.7" height="1.7"/><rect x="214.0" y="358.5" width="1.7" height="1.7"/><rect x="231.0" y="360.6" width="1.7" height="1.7"/><rect x="385.8" y="336.6" width="1.7" height="1.7"/><rect x="285.5" y="356.6" width="1.7" height="1.7"/><rect x="392.5" y="347.4" width="1.7" height="1.7"/><rect x="245.6" y="341.4" width="1.7" height="1.7"/><rect x="387.7" y="341.4" width="1.7" height="1.7"/><rect x="311.3" y="339.7" width="1.7" height="1.7"/><rect x="299.2" y="360.0" width="1.7" height="1.7"/><rect x="217.0" y="356.7" width="1.7" height="1.7"/><rect x="296.0" y="358.3" width="1.7" height="1.7"/><rect x="336.9" y="341.9" width="1.7" height="1.7"/><rect x="377.7" y="348.3" width="1.7" height="1.7"/><rect x="194.4" y="336.2" width="1.7" height="1.7"/><rect x="292.4" y="347.4" width="1.7" height="1.7"/><rect x="435.4" y="340.6" width="1.7" height="1.7"/><rect x="440.4" y="342.3" width="1.7" height="1.7"/><rect x="500.0" y="339.2" width="1.7" height="1.7"/><rect x="489.2" y="347.5" width="1.7" height="1.7"/><rect x="413.6" y="348.4" width="1.7" height="1.7"/></g>
<line x1="162.4" y1="367.3" x2="534.7" y2="367.3" stroke="#505050" stroke-width="1.0" />
<line x1="162.4" y1="371.2" x2="534.7" y2="371.2" stroke="#505050" stroke-width="1.0" />
<line x1="162.4" y1="389.1" x2="534.7" y2="389.1" stroke="#505050" stroke-width="1.0" />
<rect x="161.2" y="373.4" width="2" height="32.1" rx="0.8" fill="#cc3366"/>
<circle cx="162.2" cy="369" r="1" fill="#d04070"/>
<line x1="182.8" y1="366.6" x2="534.7" y2="336.0" stroke="#ec7d7d" stroke-width="0.85" stroke-dasharray="1.6,0.9"/>
<text x="504.3" y="335" font-size="7.2" fill="#222" font-style="italic" textLength="31.9" lengthAdjust="spacingAndGlyphs" stroke="#222" stroke-width="0.22">trendline</text>
<text x="451.2" y="357.3" font-size="6.8" fill="#222" font-style="italic" textLength="103.2" lengthAdjust="spacingAndGlyphs" stroke="#222" stroke-width="0.22">Safe detection threshold (k*=1.14)</text>
<text x="421.6" y="384.8" font-size="6.8" fill="#222" font-style="italic" textLength="130.9" lengthAdjust="spacingAndGlyphs" stroke="#222" stroke-width="0.22">95% range for neutral predictions&#160; (k*=1.12)</text>
<text x="425.4" y="402.2" font-size="6.8" fill="#222" font-style="italic" textLength="127.9" lengthAdjust="spacingAndGlyphs" stroke="#222" stroke-width="0.22">Median k* for neutral predictions (k*=1.02)</text>
<text x="254.7" y="303.6" font-size="9.6" fill="#1a1a1a" textLength="133.9" lengthAdjust="spacingAndGlyphs" stroke="#1a1a1a" stroke-width="0.22">Non-neutral simulations (green)</text>
<text x="151" y="421" font-size="11" fill="#1a1a1a" textLength="124" lengthAdjust="spacingAndGlyphs" stroke="#1a1a1a" stroke-width="0.22">Neutral simulations (red)</text>
<path d="M143.6,679.5 V449.4 H569.6" fill="none" stroke="#e4e4e4" stroke-width="1"/>
<line x1="143.6" y1="679.5" x2="569.6" y2="679.5" stroke="#e4e4e4" stroke-width="1" />
<text x="357.9" y="461.0" font-size="9.3" fill="#1a1a1a" text-anchor="middle" textLength="339.2" lengthAdjust="spacingAndGlyphs"  stroke="#1a1a1a" stroke-width="0.22">Absolute median distance between predicted and simulated driver position using a</text>
<text x="358.4" y="472.3" font-size="9.3" fill="#1a1a1a" text-anchor="middle" textLength="314.5" lengthAdjust="spacingAndGlyphs"  stroke="#1a1a1a" stroke-width="0.22">sliding window of 10 simulations ranked on simulated selection coefficient <tspan font-style="italic">s</tspan>*</text>
<text x="161.8" y="661.4" font-size="7" fill="#333" text-anchor="end"  stroke="#333" stroke-width="0.22">0</text>
<text x="161.8" y="638.9" font-size="7" fill="#333" text-anchor="end"  stroke="#333" stroke-width="0.22">200</text>
<text x="161.8" y="616.5" font-size="7" fill="#333" text-anchor="end"  stroke="#333" stroke-width="0.22">400</text>
<text x="161.8" y="594.0" font-size="7" fill="#333" text-anchor="end"  stroke="#333" stroke-width="0.22">600</text>
<text x="161.8" y="571.6" font-size="7" fill="#333" text-anchor="end"  stroke="#333" stroke-width="0.22">800</text>
<text x="161.8" y="549.1" font-size="7" fill="#333" text-anchor="end"  stroke="#333" stroke-width="0.22">1000</text>
<text x="161.8" y="526.7" font-size="7" fill="#333" text-anchor="end"  stroke="#333" stroke-width="0.22">1200</text>
<text x="161.8" y="504.2" font-size="7" fill="#333" text-anchor="end"  stroke="#333" stroke-width="0.22">1400</text>
<text x="161.8" y="481.8" font-size="7" fill="#333" text-anchor="end"  stroke="#333" stroke-width="0.22">1600</text>
<text transform="translate(135.2,579.9) rotate(-90)" font-size="10" fill="#1a1a1a" text-anchor="middle" textLength="102" lengthAdjust="spacingAndGlyphs" stroke="#1a1a1a" stroke-width="0.22">(# of ranked mutations)</text>
<text x="124.5" y="523" font-size="11" fill="#333" style="font-family:'Liberation Serif',serif" stroke="#333" stroke-width="0.22">|<tspan font-style="italic">D</tspan>|</text>
<line x1="128.8" y1="514.6" x2="134.8" y2="514.6" stroke="#333" stroke-width="0.8" />
<defs><pattern id="hs0" width="8" height="2.7" patternUnits="userSpaceOnUse" y="0.3"><rect width="8" height="2.7" fill="#d6d6d6"/><rect width="8" height="1.35" fill="#959595"/></pattern><pattern id="hs1" width="8" height="2.7" patternUnits="userSpaceOnUse" y="1.2"><rect width="8" height="2.7" fill="#d8d8d8"/><rect width="8" height="1.35" fill="#989898"/></pattern><pattern id="hs2" width="8" height="2.7" patternUnits="userSpaceOnUse" y="2.0"><rect width="8" height="2.7" fill="#d3d3d3"/><rect width="8" height="1.35" fill="#919191"/></pattern><pattern id="hs3" width="8" height="2.7" patternUnits="userSpaceOnUse" y="0.75"><rect width="8" height="2.7" fill="#dadada"/><rect width="8" height="1.35" fill="#9c9c9c"/></pattern><clipPath id="env"><path d="M167.0,578.0H169.4V659.8H167.0ZM169.4,598.0H173.2V659.8H169.4ZM173.8,579.0H176.0V659.8H173.8ZM176.0,561.6H177.6V659.8H176.0ZM177.6,543.0H178.4V659.8H177.6ZM178.2,546.5H184.5V659.8H178.2ZM181.0,522.0H183.2V659.8H181.0ZM184.5,544.0H190.8V659.8H184.5ZM189.6,536.0H190.6V659.8H189.6ZM190.8,553.0H196.4V659.8H190.8ZM196.4,561.0H199.0V659.8H196.4ZM199.0,574.0H203.3V659.8H199.0ZM203.3,562.0H206.5V659.8H203.3ZM206.5,560.4H215.0V659.8H206.5ZM208.8,553.0H209.8V659.8H208.8ZM215.0,579.0H217.1V659.8H215.0ZM217.1,600.0H219.0V659.8H217.1ZM219.0,567.0H221.0V659.8H219.0ZM221.0,600.0H222.0V659.8H221.0ZM222.0,568.0H225.3V659.8H222.0ZM225.3,603.0H226.5V659.8H225.3ZM226.5,624.0H228.4V659.8H226.5ZM239.0,592.0H241.0V659.8H239.0ZM241.6,543.2H244.8V659.8H241.6ZM244.8,565.0H246.2V659.8H244.8ZM246.2,560.0H250.0V659.8H246.2ZM247.1,528.4H248.1V659.8H247.1ZM250.0,524.0H254.2V659.8H250.0ZM254.2,488.2H257.3V659.8H254.2ZM257.3,526.0H258.6V659.8H257.3ZM258.6,562.9H264.2V659.8H258.6ZM260.9,556.4H262.2V659.8H260.9ZM264.2,585.0H266.1V659.8H264.2ZM266.1,603.3H268.0V659.8H266.1ZM268.0,603.3H269.3V659.8H268.0ZM269.3,627.8H272.4V659.8H269.3ZM272.4,603.3H277.4V659.8H272.4ZM277.4,629.0H280.0V659.8H277.4ZM280.0,646.6H281.2V659.8H280.0ZM281.2,647.5H290.0V659.8H281.2ZM290.0,644.0H297.5V659.8H290.0ZM297.5,647.5H302.0V659.8H297.5ZM302.0,644.4H305.7V659.8H302.0ZM305.7,647.0H340.0V659.8H305.7ZM340.0,644.0H355.0V659.8H340.0ZM355.0,642.5H375.0V659.8H355.0ZM375.0,646.0H394.0V659.8H375.0ZM394.0,646.5H567.0V659.8H394.0ZM167.2,562.0h1.2V659.8h-1.2ZM228.7,624.0h1.2V659.8h-1.2ZM231.8,624.0h1.2V659.8h-1.2ZM235.4,624.0h1.2V659.8h-1.2ZM238.0,624.0h1.2V659.8h-1.2ZM220.4,567.0h1.2V659.8h-1.2ZM268.0,603.3h1.2V659.8h-1.2ZM274.4,603.3h1.2V659.8h-1.2Z"/></clipPath></defs>
<g clip-path="url(#env)"><rect x="166.0" y="480" width="4.05" height="179.8" fill="url(#hs1)"/><rect x="170.0" y="480" width="5.05" height="179.8" fill="url(#hs3)"/><rect x="175.0" y="480" width="3.05" height="179.8" fill="url(#hs0)"/><rect x="178.0" y="480" width="6.05" height="179.8" fill="url(#hs2)"/><rect x="184.0" y="480" width="4.05" height="179.8" fill="url(#hs1)"/><rect x="188.0" y="480" width="6.05" height="179.8" fill="url(#hs3)"/><rect x="194.0" y="480" width="6.05" height="179.8" fill="url(#hs1)"/><rect x="200.0" y="480" width="4.05" height="179.8" fill="url(#hs1)"/><rect x="204.0" y="480" width="6.05" height="179.8" fill="url(#hs0)"/><rect x="210.0" y="480" width="3.05" height="179.8" fill="url(#hs1)"/><rect x="213.0" y="480" width="3.05" height="179.8" fill="url(#hs2)"/><rect x="216.0" y="480" width="3.05" height="179.8" fill="url(#hs2)"/><rect x="219.0" y="480" width="6.05" height="179.8" fill="url(#hs3)"/><rect x="225.0" y="480" width="6.05" height="179.8" fill="url(#hs3)"/><rect x="231.0" y="480" width="6.05" height="179.8" fill="url(#hs1)"/><rect x="237.0" y="480" width="5.05" height="179.8" fill="url(#hs0)"/><rect x="242.0" y="480" width="3.05" height="179.8" fill="url(#hs1)"/><rect x="245.0" y="480" width="6.05" height="179.8" fill="url(#hs1)"/><rect x="251.0" y="480" width="5.05" height="179.8" fill="url(#hs3)"/><rect x="256.0" y="480" width="5.05" height="179.8" fill="url(#hs3)"/><rect x="261.0" y="480" width="6.05" height="179.8" fill="url(#hs2)"/><rect x="267.0" y="480" width="6.05" height="179.8" fill="url(#hs1)"/><rect x="273.0" y="480" width="5.05" height="179.8" fill="url(#hs0)"/><rect x="278.0" y="480" width="5.05" height="179.8" fill="url(#hs1)"/><rect x="283.0" y="480" width="5.05" height="179.8" fill="url(#hs0)"/><rect x="288.0" y="480" width="4.05" height="179.8" fill="url(#hs2)"/><rect x="292.0" y="480" width="5.05" height="179.8" fill="url(#hs0)"/><rect x="297.0" y="480" width="3.05" height="179.8" fill="url(#hs3)"/><rect x="300.0" y="480" width="6.05" height="179.8" fill="url(#hs0)"/><rect x="306.0" y="480" width="5.05" height="179.8" fill="url(#hs0)"/><rect x="311.0" y="480" width="6.05" height="179.8" fill="url(#hs1)"/><rect x="317.0" y="480" width="3.05" height="179.8" fill="url(#hs2)"/><rect x="320.0" y="480" width="6.05" height="179.8" fill="url(#hs3)"/><rect x="326.0" y="480" width="3.05" height="179.8" fill="url(#hs0)"/><rect x="329.0" y="480" width="3.05" height="179.8" fill="url(#hs3)"/><rect x="332.0" y="480" width="5.05" height="179.8" fill="url(#hs2)"/><rect x="337.0" y="480" width="4.05" height="179.8" fill="url(#hs0)"/><rect x="341.0" y="480" width="5.05" height="179.8" fill="url(#hs0)"/><rect x="346.0" y="480" width="3.05" height="179.8" fill="url(#hs0)"/><rect x="349.0" y="480" width="3.05" height="179.8" fill="url(#hs1)"/><rect x="352.0" y="480" width="6.05" height="179.8" fill="url(#hs2)"/><rect x="358.0" y="480" width="5.05" height="179.8" fill="url(#hs1)"/><rect x="363.0" y="480" width="3.05" height="179.8" fill="url(#hs2)"/><rect x="366.0" y="480" width="5.05" height="179.8" fill="url(#hs2)"/><rect x="371.0" y="480" width="4.05" height="179.8" fill="url(#hs3)"/><rect x="375.0" y="480" width="6.05" height="179.8" fill="url(#hs3)"/><rect x="381.0" y="480" width="6.05" height="179.8" fill="url(#hs0)"/><rect x="387.0" y="480" width="5.05" height="179.8" fill="url(#hs3)"/><rect x="392.0" y="480" width="4.05" height="179.8" fill="url(#hs2)"/><rect x="396.0" y="480" width="6.05" height="179.8" fill="url(#hs2)"/><rect x="402.0" y="480" width="5.05" height="179.8" fill="url(#hs2)"/><rect x="407.0" y="480" width="3.05" height="179.8" fill="url(#hs3)"/><rect x="410.0" y="480" width="5.05" height="179.8" fill="url(#hs0)"/><rect x="415.0" y="480" width="6.05" height="179.8" fill="url(#hs1)"/><rect x="421.0" y="480" width="3.05" height="179.8" fill="url(#hs2)"/><rect x="424.0" y="480" width="6.05" height="179.8" fill="url(#hs2)"/><rect x="430.0" y="480" width="5.05" height="179.8" fill="url(#hs2)"/><rect x="435.0" y="480" width="6.05" height="179.8" fill="url(#hs0)"/><rect x="441.0" y="480" width="3.05" height="179.8" fill="url(#hs0)"/><rect x="444.0" y="480" width="5.05" height="179.8" fill="url(#hs2)"/><rect x="449.0" y="480" width="6.05" height="179.8" fill="url(#hs2)"/><rect x="455.0" y="480" width="5.05" height="179.8" fill="url(#hs1)"/><rect x="460.0" y="480" width="5.05" height="179.8" fill="url(#hs1)"/><rect x="465.0" y="480" width="5.05" height="179.8" fill="url(#hs2)"/><rect x="470.0" y="480" width="5.05" height="179.8" fill="url(#hs2)"/><rect x="475.0" y="480" width="6.05" height="179.8" fill="url(#hs0)"/><rect x="481.0" y="480" width="3.05" height="179.8" fill="url(#hs1)"/><rect x="484.0" y="480" width="5.05" height="179.8" fill="url(#hs1)"/><rect x="489.0" y="480" width="5.05" height="179.8" fill="url(#hs1)"/><rect x="494.0" y="480" width="5.05" height="179.8" fill="url(#hs1)"/><rect x="499.0" y="480" width="6.05" height="179.8" fill="url(#hs0)"/><rect x="505.0" y="480" width="3.05" height="179.8" fill="url(#hs2)"/><rect x="508.0" y="480" width="5.05" height="179.8" fill="url(#hs1)"/><rect x="513.0" y="480" width="6.05" height="179.8" fill="url(#hs1)"/><rect x="519.0" y="480" width="3.05" height="179.8" fill="url(#hs2)"/><rect x="522.0" y="480" width="4.05" height="179.8" fill="url(#hs3)"/><rect x="526.0" y="480" width="5.05" height="179.8" fill="url(#hs1)"/><rect x="531.0" y="480" width="3.05" height="179.8" fill="url(#hs0)"/><rect x="534.0" y="480" width="4.05" height="179.8" fill="url(#hs2)"/><rect x="538.0" y="480" width="4.05" height="179.8" fill="url(#hs2)"/><rect x="542.0" y="480" width="5.05" height="179.8" fill="url(#hs0)"/><rect x="547.0" y="480" width="5.05" height="179.8" fill="url(#hs1)"/><rect x="552.0" y="480" width="6.05" height="179.8" fill="url(#hs2)"/><rect x="558.0" y="480" width="5.05" height="179.8" fill="url(#hs3)"/><rect x="563.0" y="480" width="5.05" height="179.8" fill="url(#hs3)"/></g>
<line x1="173.5" y1="575.0" x2="173.5" y2="659.8" stroke="#fff" stroke-width="0.7" />
<line x1="246.7" y1="560.0" x2="246.7" y2="659.8" stroke="#fff" stroke-width="0.7" />
<line x1="285.0" y1="647.0" x2="285.0" y2="659.8" stroke="#fff" stroke-width="0.7" />
<line x1="313.0" y1="646.0" x2="313.0" y2="659.8" stroke="#fff" stroke-width="0.7" />
<line x1="374.0" y1="646.0" x2="374.0" y2="659.8" stroke="#fff" stroke-width="0.7" />
<line x1="394.0" y1="646.0" x2="394.0" y2="659.8" stroke="#fff" stroke-width="0.7" />
<line x1="431.0" y1="647.0" x2="431.0" y2="659.8" stroke="#fff" stroke-width="0.7" />
<line x1="468.0" y1="645.0" x2="468.0" y2="659.8" stroke="#fff" stroke-width="0.7" />
<line x1="504.0" y1="647.0" x2="504.0" y2="659.8" stroke="#fff" stroke-width="0.7" />
<line x1="521.0" y1="646.0" x2="521.0" y2="659.8" stroke="#fff" stroke-width="0.7" />
<line x1="184.5" y1="546.0" x2="184.5" y2="659.8" stroke="#555" stroke-width="0.8" stroke-dasharray="1.3,1.4"/>
<line x1="196.3" y1="553.0" x2="196.3" y2="659.8" stroke="#555" stroke-width="0.8" stroke-dasharray="1.3,1.4"/>
<line x1="268.9" y1="603.0" x2="268.9" y2="659.8" stroke="#555" stroke-width="0.8" stroke-dasharray="1.3,1.4"/>
<line x1="292.4" y1="644.0" x2="292.4" y2="659.8" stroke="#555" stroke-width="0.8" stroke-dasharray="1.3,1.4"/>
<line x1="353.2" y1="643.0" x2="353.2" y2="659.8" stroke="#555" stroke-width="0.8" stroke-dasharray="1.3,1.4"/>
<line x1="379.0" y1="646.0" x2="379.0" y2="659.8" stroke="#555" stroke-width="0.8" stroke-dasharray="1.3,1.4"/>
<line x1="486.5" y1="647.5" x2="486.5" y2="659.8" stroke="#555" stroke-width="0.8" stroke-dasharray="1.3,1.4"/>
<line x1="511.5" y1="647.5" x2="511.5" y2="659.8" stroke="#555" stroke-width="0.8" stroke-dasharray="1.3,1.4"/>
<polyline points="168.2,620.3 170.0,630.3 171.9,634.7 173.8,632.8 175.7,622.8 177.6,614.0 179.5,612.7 180.7,605.2 181.6,604.0 182.3,611.5 183.2,607.7 184.5,612.7 188.9,612.7 190.1,610.8 191.4,616.5 196.4,619.0 200.2,624.7 203.3,620.3 209.0,617.1 214.0,620.3 216.5,626.5 217.8,635.3 219.6,622.8 220.9,632.8 222.8,622.1 224.7,622.8 226.5,637.8 228.4,647.9 229.7,652.9 231.6,646.6 233.4,652.9 235.3,646.6 237.2,652.9 239.1,645.4 239.8,635.3 241.0,622.8 242.3,612.7 243.5,615.2 245.4,621.5 247.3,607.7 248.6,617.8 249.8,610.2 251.1,604.6 253.6,604.0 254.8,590.8 256.7,590.8 258.0,601.4 258.6,619.0 260.5,617.8 262.4,619.0 264.9,630.3 266.8,636.6 269.3,637.2 271.8,645.4 273.7,637.8 276.2,636.6 278.7,641.6 281.2,652.9 286.2,654.2 320.0,654.0 350.0,653.6 372.0,652.4 385.0,654.0 400.0,654.4 440.0,654.2 470.0,653.8 520.0,654.0 567.0,654.3" fill="none" stroke="#a8e07a" stroke-width="2.0" stroke-linejoin="round" opacity="0.6"/>
<polyline points="168.2,620.3 170.0,630.3 171.9,634.7 173.8,632.8 175.7,622.8 177.6,614.0 179.5,612.7 180.7,605.2 181.6,604.0 182.3,611.5 183.2,607.7 184.5,612.7 188.9,612.7 190.1,610.8 191.4,616.5 196.4,619.0 200.2,624.7 203.3,620.3 209.0,617.1 214.0,620.3 216.5,626.5 217.8,635.3 219.6,622.8 220.9,632.8 222.8,622.1 224.7,622.8 226.5,637.8 228.4,647.9 229.7,652.9 231.6,646.6 233.4,652.9 235.3,646.6 237.2,652.9 239.1,645.4 239.8,635.3 241.0,622.8 242.3,612.7 243.5,615.2 245.4,621.5 247.3,607.7 248.6,617.8 249.8,610.2 251.1,604.6 253.6,604.0 254.8,590.8 256.7,590.8 258.0,601.4 258.6,619.0 260.5,617.8 262.4,619.0 264.9,630.3 266.8,636.6 269.3,637.2 271.8,645.4 273.7,637.8 276.2,636.6 278.7,641.6 281.2,652.9 286.2,654.2 320.0,654.0 350.0,653.6 372.0,652.4 385.0,654.0 400.0,654.4 440.0,654.2 470.0,653.8 520.0,654.0 567.0,654.3" fill="none" stroke="#74c92c" stroke-width="0.9" stroke-linejoin="round" />
<line x1="167.5" y1="606.6" x2="568.0" y2="606.6" stroke="#555" stroke-width="1" />
<line x1="167.5" y1="609.4" x2="568.0" y2="609.4" stroke="#3d418f" stroke-width="1.2" />
<line x1="167.5" y1="612.1" x2="568.0" y2="612.1" stroke="#555" stroke-width="1" />
<text x="425" y="600.6" font-size="7" fill="#222" font-style="italic" textLength="117" lengthAdjust="spacingAndGlyphs" stroke="#222" stroke-width="0.22">Abs. median random&#160; distance + std. error</text>
<text x="425" y="621.4" font-size="7" fill="#222" font-style="italic" textLength="115" lengthAdjust="spacingAndGlyphs" stroke="#222" stroke-width="0.22">Abs. median random&#160; distance - std. error</text>
<g font-size="6.7" fill="#111" stroke="#111" stroke-width="0.2"><text transform="translate(170.3,676.8) rotate(-90)">0.02</text><text transform="translate(178.6,676.8) rotate(-90)">0.03</text><text transform="translate(186.8,676.8) rotate(-90)">0.03</text><text transform="translate(195.1,676.8) rotate(-90)">0.03</text><text transform="translate(203.3,676.8) rotate(-90)">0.03</text><text transform="translate(211.6,676.8) rotate(-90)">0.03</text><text transform="translate(219.8,676.8) rotate(-90)">0.03</text><text transform="translate(228.1,676.8) rotate(-90)">0.04</text><text transform="translate(236.3,676.8) rotate(-90)">0.04</text><text transform="translate(244.6,676.8) rotate(-90)">0.04</text><text transform="translate(252.8,676.8) rotate(-90)">0.04</text><text transform="translate(261.1,676.8) rotate(-90)">0.05</text><text transform="translate(269.3,676.8) rotate(-90)">0.05</text><text transform="translate(277.6,676.8) rotate(-90)">0.05</text><text transform="translate(285.8,676.8) rotate(-90)">0.05</text><text transform="translate(294.1,676.8) rotate(-90)">0.05</text><text transform="translate(302.3,676.8) rotate(-90)">0.06</text><text transform="translate(310.6,676.8) rotate(-90)">0.06</text><text transform="translate(318.8,676.8) rotate(-90)">0.07</text><text transform="translate(327.1,676.8) rotate(-90)">0.07</text><text transform="translate(335.3,676.8) rotate(-90)">0.07</text><text transform="translate(343.6,676.8) rotate(-90)">0.08</text><text transform="translate(351.8,676.8) rotate(-90)">0.09</text><text transform="translate(360.1,676.8) rotate(-90)">0.09</text><text transform="translate(368.3,676.8) rotate(-90)">0.10</text><text transform="translate(376.6,676.8) rotate(-90)">0.10</text><text transform="translate(384.8,676.8) rotate(-90)">0.11</text><text transform="translate(393.1,676.8) rotate(-90)">0.11</text><text transform="translate(401.3,676.8) rotate(-90)">0.12</text><text transform="translate(409.6,676.8) rotate(-90)">0.12</text><text transform="translate(417.8,676.8) rotate(-90)">0.13</text><text transform="translate(426.1,676.8) rotate(-90)">0.14</text><text transform="translate(434.3,676.8) rotate(-90)">0.14</text><text transform="translate(442.6,676.8) rotate(-90)">0.15</text><text transform="translate(450.8,676.8) rotate(-90)">0.16</text><text transform="translate(459.1,676.8) rotate(-90)">0.16</text><text transform="translate(467.3,676.8) rotate(-90)">0.17</text><text transform="translate(475.6,676.8) rotate(-90)">0.18</text><text transform="translate(483.8,676.8) rotate(-90)">0.18</text><text transform="translate(492.1,676.8) rotate(-90)">0.19</text><text transform="translate(500.3,676.8) rotate(-90)">0.20</text><text transform="translate(508.6,676.8) rotate(-90)">0.20</text><text transform="translate(516.8,676.8) rotate(-90)">0.20</text><text transform="translate(525.0,676.8) rotate(-90)">0.21</text><text transform="translate(533.3,676.8) rotate(-90)">0.23</text><text transform="translate(541.5,676.8) rotate(-90)">0.25</text><text transform="translate(549.8,676.8) rotate(-90)">0.28</text><text transform="translate(558.0,676.8) rotate(-90)">0.30</text><text transform="translate(566.3,676.8) rotate(-90)">0.32</text></g>
<text x="203.1" y="690.7" font-size="10" fill="#1a1a1a" textLength="319" lengthAdjust="spacingAndGlyphs" stroke="#1a1a1a" stroke-width="0.22">Simulated selective coefficient projected for 1,000,000 cell population size (<tspan font-style="italic">s</tspan>*)</text>
<rect x="39.4" y="701" width="165.4" height="130.70000000000005" fill="none" stroke="#d0d0d0" stroke-width="0.9"/>
<line x1="40.4" y1="701.0" x2="40.4" y2="702.5" stroke="#bbb" stroke-width="0.6" />
<line x1="40.4" y1="831.7" x2="40.4" y2="830.2" stroke="#bbb" stroke-width="0.6" />
<text x="40.4" y="839.6" font-size="7.4" fill="#7a7a7a" text-anchor="middle" style="font-family:'Liberation Serif',serif" stroke="#7a7a7a" stroke-width="0.22">1</text>
<line x1="58.7" y1="701.0" x2="58.7" y2="702.5" stroke="#bbb" stroke-width="0.6" />
<line x1="58.7" y1="831.7" x2="58.7" y2="830.2" stroke="#bbb" stroke-width="0.6" />
<text x="58.7" y="839.6" font-size="7.4" fill="#7a7a7a" text-anchor="middle" style="font-family:'Liberation Serif',serif" stroke="#7a7a7a" stroke-width="0.22">2</text>
<line x1="76.9" y1="701.0" x2="76.9" y2="702.5" stroke="#bbb" stroke-width="0.6" />
<line x1="76.9" y1="831.7" x2="76.9" y2="830.2" stroke="#bbb" stroke-width="0.6" />
<text x="76.9" y="839.6" font-size="7.4" fill="#7a7a7a" text-anchor="middle" style="font-family:'Liberation Serif',serif" stroke="#7a7a7a" stroke-width="0.22">3</text>
<line x1="95.2" y1="701.0" x2="95.2" y2="702.5" stroke="#bbb" stroke-width="0.6" />
<line x1="95.2" y1="831.7" x2="95.2" y2="830.2" stroke="#bbb" stroke-width="0.6" />
<text x="95.2" y="839.6" font-size="7.4" fill="#7a7a7a" text-anchor="middle" style="font-family:'Liberation Serif',serif" stroke="#7a7a7a" stroke-width="0.22">4</text>
<line x1="113.5" y1="701.0" x2="113.5" y2="702.5" stroke="#bbb" stroke-width="0.6" />
<line x1="113.5" y1="831.7" x2="113.5" y2="830.2" stroke="#bbb" stroke-width="0.6" />
<text x="113.5" y="839.6" font-size="7.4" fill="#7a7a7a" text-anchor="middle" style="font-family:'Liberation Serif',serif" stroke="#7a7a7a" stroke-width="0.22">5</text>
<line x1="131.7" y1="701.0" x2="131.7" y2="702.5" stroke="#bbb" stroke-width="0.6" />
<line x1="131.7" y1="831.7" x2="131.7" y2="830.2" stroke="#bbb" stroke-width="0.6" />
<text x="131.7" y="839.6" font-size="7.4" fill="#7a7a7a" text-anchor="middle" style="font-family:'Liberation Serif',serif" stroke="#7a7a7a" stroke-width="0.22">6</text>
<line x1="150.0" y1="701.0" x2="150.0" y2="702.5" stroke="#bbb" stroke-width="0.6" />
<line x1="150.0" y1="831.7" x2="150.0" y2="830.2" stroke="#bbb" stroke-width="0.6" />
<text x="150.0" y="839.6" font-size="7.4" fill="#7a7a7a" text-anchor="middle" style="font-family:'Liberation Serif',serif" stroke="#7a7a7a" stroke-width="0.22">7</text>
<line x1="168.3" y1="701.0" x2="168.3" y2="702.5" stroke="#bbb" stroke-width="0.6" />
<line x1="168.3" y1="831.7" x2="168.3" y2="830.2" stroke="#bbb" stroke-width="0.6" />
<text x="168.3" y="839.6" font-size="7.4" fill="#7a7a7a" text-anchor="middle" style="font-family:'Liberation Serif',serif" stroke="#7a7a7a" stroke-width="0.22">8</text>
<line x1="186.5" y1="701.0" x2="186.5" y2="702.5" stroke="#bbb" stroke-width="0.6" />
<line x1="186.5" y1="831.7" x2="186.5" y2="830.2" stroke="#bbb" stroke-width="0.6" />
<text x="186.5" y="839.6" font-size="7.4" fill="#7a7a7a" text-anchor="middle" style="font-family:'Liberation Serif',serif" stroke="#7a7a7a" stroke-width="0.22">9</text>
<line x1="204.8" y1="701.0" x2="204.8" y2="702.5" stroke="#bbb" stroke-width="0.6" />
<line x1="204.8" y1="831.7" x2="204.8" y2="830.2" stroke="#bbb" stroke-width="0.6" />
<text x="204.8" y="839.6" font-size="7.4" fill="#7a7a7a" text-anchor="middle" style="font-family:'Liberation Serif',serif" stroke="#7a7a7a" stroke-width="0.22">10</text>
<text x="38" y="708.4" font-size="7.4" fill="#7a7a7a" text-anchor="end" style="font-family:'Liberation Serif',serif" stroke="#7a7a7a" stroke-width="0.22">3000</text>
<line x1="39.4" y1="705.6" x2="40.9" y2="705.6" stroke="#bbb" stroke-width="0.6" />
<text x="38" y="725.8" font-size="7.4" fill="#7a7a7a" text-anchor="end" style="font-family:'Liberation Serif',serif" stroke="#7a7a7a" stroke-width="0.22">2500</text>
<line x1="39.4" y1="723.0" x2="40.9" y2="723.0" stroke="#bbb" stroke-width="0.6" />
<text x="38" y="748.2" font-size="7.4" fill="#7a7a7a" text-anchor="end" style="font-family:'Liberation Serif',serif" stroke="#7a7a7a" stroke-width="0.22">2000</text>
<line x1="39.4" y1="745.4" x2="40.9" y2="745.4" stroke="#bbb" stroke-width="0.6" />
<text x="38" y="769.4" font-size="7.4" fill="#7a7a7a" text-anchor="end" style="font-family:'Liberation Serif',serif" stroke="#7a7a7a" stroke-width="0.22">1500</text>
<line x1="39.4" y1="766.6" x2="40.9" y2="766.6" stroke="#bbb" stroke-width="0.6" />
<text x="38" y="791.4" font-size="7.4" fill="#7a7a7a" text-anchor="end" style="font-family:'Liberation Serif',serif" stroke="#7a7a7a" stroke-width="0.22">1000</text>
<line x1="39.4" y1="788.6" x2="40.9" y2="788.6" stroke="#bbb" stroke-width="0.6" />
<text x="38" y="813.2" font-size="7.4" fill="#7a7a7a" text-anchor="end" style="font-family:'Liberation Serif',serif" stroke="#7a7a7a" stroke-width="0.22">500</text>
<line x1="39.4" y1="810.4" x2="40.9" y2="810.4" stroke="#bbb" stroke-width="0.6" />
<text x="38" y="832.8" font-size="7.4" fill="#7a7a7a" text-anchor="end" style="font-family:'Liberation Serif',serif" stroke="#7a7a7a" stroke-width="0.22">0</text>
<line x1="39.4" y1="830.0" x2="40.9" y2="830.0" stroke="#bbb" stroke-width="0.6" />
<polyline points="95.0,709.5 112.5,812.6 131.0,822.7 150.0,825.0 185.7,823.7" fill="none" stroke="#4a8fcc" stroke-width="1.2" stroke-linejoin="round" />
<text x="134.54" y="722.7" font-size="16" fill="#111" font-style="italic" style="font-family:'Liberation Serif',serif" textLength="9.53" lengthAdjust="spacingAndGlyphs" stroke="#111" stroke-width="0.22">α</text>
<text x="149.70" y="723.2" font-size="16" fill="#111" style="font-family:'Liberation Serif',serif" textLength="13.55" lengthAdjust="spacingAndGlyphs" stroke="#111" stroke-width="0.22">=</text>
<text x="167.74" y="722.7" font-size="16" fill="#111" style="font-family:'Liberation Serif',serif" textLength="22.20" lengthAdjust="spacingAndGlyphs" stroke="#111" stroke-width="0.22">1.4</text>
<text x="124.52" y="743.1" font-size="16" fill="#111" font-style="italic" style="font-family:'Liberation Serif',serif" textLength="8.00" lengthAdjust="spacingAndGlyphs" stroke="#111" stroke-width="0.22">r</text>
<text x="137.19" y="743.6" font-size="16" fill="#111" style="font-family:'Liberation Serif',serif" textLength="13.67" lengthAdjust="spacingAndGlyphs" stroke="#111" stroke-width="0.22">=</text>
<text x="155.83" y="743.1" font-size="16" fill="#111" style="font-family:'Liberation Serif',serif" textLength="44.75" lengthAdjust="spacingAndGlyphs" stroke="#111" stroke-width="0.22">−0.34</text>
<text x="10.4" y="710.8" font-size="9.5" fill="#222" font-weight="bold" font-style="italic" style="font-family:'Liberation Serif',serif" stroke="#222" stroke-width="0.22">δ<tspan font-size="7.5" dy="1.3">n</tspan></text>
<text x="102.4" y="848" font-size="7.6" fill="#333" textLength="56.1" lengthAdjust="spacingAndGlyphs" stroke="#333" stroke-width="0.22">Generation time</text>
<rect x="264" y="702.6" width="163.39999999999998" height="128.89999999999998" fill="none" stroke="#d0d0d0" stroke-width="0.9"/>
<line x1="264.8" y1="702.6" x2="264.8" y2="704.1" stroke="#bbb" stroke-width="0.6" />
<line x1="264.8" y1="831.5" x2="264.8" y2="830.0" stroke="#bbb" stroke-width="0.6" />
<text x="264.8" y="839.1" font-size="7.4" fill="#7a7a7a" text-anchor="middle" style="font-family:'Liberation Serif',serif" stroke="#7a7a7a" stroke-width="0.22">1</text>
<line x1="282.7" y1="702.6" x2="282.7" y2="704.1" stroke="#bbb" stroke-width="0.6" />
<line x1="282.7" y1="831.5" x2="282.7" y2="830.0" stroke="#bbb" stroke-width="0.6" />
<text x="282.7" y="839.1" font-size="7.4" fill="#7a7a7a" text-anchor="middle" style="font-family:'Liberation Serif',serif" stroke="#7a7a7a" stroke-width="0.22">2</text>
<line x1="300.5" y1="702.6" x2="300.5" y2="704.1" stroke="#bbb" stroke-width="0.6" />
<line x1="300.5" y1="831.5" x2="300.5" y2="830.0" stroke="#bbb" stroke-width="0.6" />
<text x="300.5" y="839.1" font-size="7.4" fill="#7a7a7a" text-anchor="middle" style="font-family:'Liberation Serif',serif" stroke="#7a7a7a" stroke-width="0.22">3</text>
<line x1="318.4" y1="702.6" x2="318.4" y2="704.1" stroke="#bbb" stroke-width="0.6" />
<line x1="318.4" y1="831.5" x2="318.4" y2="830.0" stroke="#bbb" stroke-width="0.6" />
<text x="318.4" y="839.1" font-size="7.4" fill="#7a7a7a" text-anchor="middle" style="font-family:'Liberation Serif',serif" stroke="#7a7a7a" stroke-width="0.22">4</text>
<line x1="336.3" y1="702.6" x2="336.3" y2="704.1" stroke="#bbb" stroke-width="0.6" />
<line x1="336.3" y1="831.5" x2="336.3" y2="830.0" stroke="#bbb" stroke-width="0.6" />
<text x="336.3" y="839.1" font-size="7.4" fill="#7a7a7a" text-anchor="middle" style="font-family:'Liberation Serif',serif" stroke="#7a7a7a" stroke-width="0.22">5</text>
<line x1="354.1" y1="702.6" x2="354.1" y2="704.1" stroke="#bbb" stroke-width="0.6" />
<line x1="354.1" y1="831.5" x2="354.1" y2="830.0" stroke="#bbb" stroke-width="0.6" />
<text x="354.1" y="839.1" font-size="7.4" fill="#7a7a7a" text-anchor="middle" style="font-family:'Liberation Serif',serif" stroke="#7a7a7a" stroke-width="0.22">6</text>
<line x1="372.0" y1="702.6" x2="372.0" y2="704.1" stroke="#bbb" stroke-width="0.6" />
<line x1="372.0" y1="831.5" x2="372.0" y2="830.0" stroke="#bbb" stroke-width="0.6" />
<text x="372.0" y="839.1" font-size="7.4" fill="#7a7a7a" text-anchor="middle" style="font-family:'Liberation Serif',serif" stroke="#7a7a7a" stroke-width="0.22">7</text>
<line x1="389.9" y1="702.6" x2="389.9" y2="704.1" stroke="#bbb" stroke-width="0.6" />
<line x1="389.9" y1="831.5" x2="389.9" y2="830.0" stroke="#bbb" stroke-width="0.6" />
<text x="389.9" y="839.1" font-size="7.4" fill="#7a7a7a" text-anchor="middle" style="font-family:'Liberation Serif',serif" stroke="#7a7a7a" stroke-width="0.22">8</text>
<line x1="407.7" y1="702.6" x2="407.7" y2="704.1" stroke="#bbb" stroke-width="0.6" />
<line x1="407.7" y1="831.5" x2="407.7" y2="830.0" stroke="#bbb" stroke-width="0.6" />
<text x="407.7" y="839.1" font-size="7.4" fill="#7a7a7a" text-anchor="middle" style="font-family:'Liberation Serif',serif" stroke="#7a7a7a" stroke-width="0.22">9</text>
<line x1="425.6" y1="702.6" x2="425.6" y2="704.1" stroke="#bbb" stroke-width="0.6" />
<line x1="425.6" y1="831.5" x2="425.6" y2="830.0" stroke="#bbb" stroke-width="0.6" />
<text x="425.6" y="839.1" font-size="7.4" fill="#7a7a7a" text-anchor="middle" style="font-family:'Liberation Serif',serif" stroke="#7a7a7a" stroke-width="0.22">10</text>
<text x="262.3" y="707.4" font-size="7.4" fill="#7a7a7a" text-anchor="end" style="font-family:'Liberation Serif',serif" stroke="#7a7a7a" stroke-width="0.22">200</text>
<line x1="264.0" y1="704.6" x2="265.5" y2="704.6" stroke="#bbb" stroke-width="0.6" />
<text x="262.3" y="726.3" font-size="7.4" fill="#7a7a7a" text-anchor="end" style="font-family:'Liberation Serif',serif" stroke="#7a7a7a" stroke-width="0.22">180</text>
<line x1="264.0" y1="723.5" x2="265.5" y2="723.5" stroke="#bbb" stroke-width="0.6" />
<text x="262.3" y="747.7" font-size="7.4" fill="#7a7a7a" text-anchor="end" style="font-family:'Liberation Serif',serif" stroke="#7a7a7a" stroke-width="0.22">160</text>
<line x1="264.0" y1="744.9" x2="265.5" y2="744.9" stroke="#bbb" stroke-width="0.6" />
<text x="262.3" y="769.2" font-size="7.4" fill="#7a7a7a" text-anchor="end" style="font-family:'Liberation Serif',serif" stroke="#7a7a7a" stroke-width="0.22">140</text>
<line x1="264.0" y1="766.4" x2="265.5" y2="766.4" stroke="#bbb" stroke-width="0.6" />
<text x="262.3" y="791.3" font-size="7.4" fill="#7a7a7a" text-anchor="end" style="font-family:'Liberation Serif',serif" stroke="#7a7a7a" stroke-width="0.22">120</text>
<line x1="264.0" y1="788.5" x2="265.5" y2="788.5" stroke="#bbb" stroke-width="0.6" />
<text x="262.3" y="813.4" font-size="7.4" fill="#7a7a7a" text-anchor="end" style="font-family:'Liberation Serif',serif" stroke="#7a7a7a" stroke-width="0.22">100</text>
<line x1="264.0" y1="810.6" x2="265.5" y2="810.6" stroke="#bbb" stroke-width="0.6" />
<text x="262.3" y="831.8" font-size="7.4" fill="#7a7a7a" text-anchor="end" style="font-family:'Liberation Serif',serif" stroke="#7a7a7a" stroke-width="0.22">80</text>
<line x1="264.0" y1="829.0" x2="265.5" y2="829.0" stroke="#bbb" stroke-width="0.6" />
<polyline points="300.5,827.7 318.0,816.7 336.8,799.9 354.9,793.2 372.7,770.0 391.2,743.1 409.7,715.3" fill="none" stroke="#4a8fcc" stroke-width="1.2" stroke-linejoin="round" />
<text x="276.04" y="721.6" font-size="16" fill="#111" font-style="italic" style="font-family:'Liberation Serif',serif" textLength="9.53" lengthAdjust="spacingAndGlyphs" stroke="#111" stroke-width="0.22">α</text>
<text x="290.36" y="722.1" font-size="16" fill="#111" style="font-family:'Liberation Serif',serif" textLength="12.82" lengthAdjust="spacingAndGlyphs" stroke="#111" stroke-width="0.22">=</text>
<text x="307.71" y="721.6" font-size="16" fill="#111" style="font-family:'Liberation Serif',serif" textLength="9.62" lengthAdjust="spacingAndGlyphs" stroke="#111" stroke-width="0.22">1</text>
<text x="276.24" y="741.8" font-size="16" fill="#111" font-style="italic" style="font-family:'Liberation Serif',serif" textLength="7.78" lengthAdjust="spacingAndGlyphs" stroke="#111" stroke-width="0.22">r</text>
<text x="288.91" y="742.3" font-size="16" fill="#111" style="font-family:'Liberation Serif',serif" textLength="13.43" lengthAdjust="spacingAndGlyphs" stroke="#111" stroke-width="0.22">=</text>
<text x="307.82" y="741.8" font-size="16" fill="#111" style="font-family:'Liberation Serif',serif" textLength="8.97" lengthAdjust="spacingAndGlyphs" stroke="#111" stroke-width="0.22">0</text>
<text x="238.2" y="712.2" font-size="9.5" fill="#222" font-weight="bold" font-style="italic" style="font-family:'Liberation Serif',serif" stroke="#222" stroke-width="0.22">δ<tspan font-size="7.5" dy="1.3">n</tspan></text>
<text x="325.7" y="847.7" font-size="7.6" fill="#333" textLength="54.3" lengthAdjust="spacingAndGlyphs" stroke="#333" stroke-width="0.22">Generation time</text>
<rect x="496" y="701.8" width="167.20000000000005" height="131.0" fill="none" stroke="#d0d0d0" stroke-width="0.9"/>
<line x1="497.6" y1="701.8" x2="497.6" y2="703.3" stroke="#bbb" stroke-width="0.6" />
<line x1="497.6" y1="832.8" x2="497.6" y2="831.3" stroke="#bbb" stroke-width="0.6" />
<text x="497.6" y="839.8" font-size="7.4" fill="#7a7a7a" text-anchor="middle" style="font-family:'Liberation Serif',serif" stroke="#7a7a7a" stroke-width="0.22">1</text>
<line x1="515.7" y1="701.8" x2="515.7" y2="703.3" stroke="#bbb" stroke-width="0.6" />
<line x1="515.7" y1="832.8" x2="515.7" y2="831.3" stroke="#bbb" stroke-width="0.6" />
<text x="515.7" y="839.8" font-size="7.4" fill="#7a7a7a" text-anchor="middle" style="font-family:'Liberation Serif',serif" stroke="#7a7a7a" stroke-width="0.22">2</text>
<line x1="533.9" y1="701.8" x2="533.9" y2="703.3" stroke="#bbb" stroke-width="0.6" />
<line x1="533.9" y1="832.8" x2="533.9" y2="831.3" stroke="#bbb" stroke-width="0.6" />
<text x="533.9" y="839.8" font-size="7.4" fill="#7a7a7a" text-anchor="middle" style="font-family:'Liberation Serif',serif" stroke="#7a7a7a" stroke-width="0.22">3</text>
<line x1="552.0" y1="701.8" x2="552.0" y2="703.3" stroke="#bbb" stroke-width="0.6" />
<line x1="552.0" y1="832.8" x2="552.0" y2="831.3" stroke="#bbb" stroke-width="0.6" />
<text x="552.0" y="839.8" font-size="7.4" fill="#7a7a7a" text-anchor="middle" style="font-family:'Liberation Serif',serif" stroke="#7a7a7a" stroke-width="0.22">4</text>
<line x1="570.1" y1="701.8" x2="570.1" y2="703.3" stroke="#bbb" stroke-width="0.6" />
<line x1="570.1" y1="832.8" x2="570.1" y2="831.3" stroke="#bbb" stroke-width="0.6" />
<text x="570.1" y="839.8" font-size="7.4" fill="#7a7a7a" text-anchor="middle" style="font-family:'Liberation Serif',serif" stroke="#7a7a7a" stroke-width="0.22">5</text>
<line x1="588.3" y1="701.8" x2="588.3" y2="703.3" stroke="#bbb" stroke-width="0.6" />
<line x1="588.3" y1="832.8" x2="588.3" y2="831.3" stroke="#bbb" stroke-width="0.6" />
<text x="588.3" y="839.8" font-size="7.4" fill="#7a7a7a" text-anchor="middle" style="font-family:'Liberation Serif',serif" stroke="#7a7a7a" stroke-width="0.22">6</text>
<line x1="606.4" y1="701.8" x2="606.4" y2="703.3" stroke="#bbb" stroke-width="0.6" />
<line x1="606.4" y1="832.8" x2="606.4" y2="831.3" stroke="#bbb" stroke-width="0.6" />
<text x="606.4" y="839.8" font-size="7.4" fill="#7a7a7a" text-anchor="middle" style="font-family:'Liberation Serif',serif" stroke="#7a7a7a" stroke-width="0.22">7</text>
<line x1="624.5" y1="701.8" x2="624.5" y2="703.3" stroke="#bbb" stroke-width="0.6" />
<line x1="624.5" y1="832.8" x2="624.5" y2="831.3" stroke="#bbb" stroke-width="0.6" />
<text x="624.5" y="839.8" font-size="7.4" fill="#7a7a7a" text-anchor="middle" style="font-family:'Liberation Serif',serif" stroke="#7a7a7a" stroke-width="0.22">8</text>
<line x1="642.7" y1="701.8" x2="642.7" y2="703.3" stroke="#bbb" stroke-width="0.6" />
<line x1="642.7" y1="832.8" x2="642.7" y2="831.3" stroke="#bbb" stroke-width="0.6" />
<text x="642.7" y="839.8" font-size="7.4" fill="#7a7a7a" text-anchor="middle" style="font-family:'Liberation Serif',serif" stroke="#7a7a7a" stroke-width="0.22">9</text>
<line x1="660.8" y1="701.8" x2="660.8" y2="703.3" stroke="#bbb" stroke-width="0.6" />
<line x1="660.8" y1="832.8" x2="660.8" y2="831.3" stroke="#bbb" stroke-width="0.6" />
<text x="660.8" y="839.8" font-size="7.4" fill="#7a7a7a" text-anchor="middle" style="font-family:'Liberation Serif',serif" stroke="#7a7a7a" stroke-width="0.22">10</text>
<text x="494.6" y="706.3" font-size="7.4" fill="#7a7a7a" text-anchor="end" style="font-family:'Liberation Serif',serif" stroke="#7a7a7a" stroke-width="0.22">1400</text>
<line x1="496.0" y1="703.5" x2="497.5" y2="703.5" stroke="#bbb" stroke-width="0.6" />
<text x="494.6" y="723.1" font-size="7.4" fill="#7a7a7a" text-anchor="end" style="font-family:'Liberation Serif',serif" stroke="#7a7a7a" stroke-width="0.22">1200</text>
<line x1="496.0" y1="720.3" x2="497.5" y2="720.3" stroke="#bbb" stroke-width="0.6" />
<text x="494.6" y="741.6" font-size="7.4" fill="#7a7a7a" text-anchor="end" style="font-family:'Liberation Serif',serif" stroke="#7a7a7a" stroke-width="0.22">1000</text>
<line x1="496.0" y1="738.8" x2="497.5" y2="738.8" stroke="#bbb" stroke-width="0.6" />
<text x="494.6" y="760.7" font-size="7.4" fill="#7a7a7a" text-anchor="end" style="font-family:'Liberation Serif',serif" stroke="#7a7a7a" stroke-width="0.22">800</text>
<line x1="496.0" y1="757.9" x2="497.5" y2="757.9" stroke="#bbb" stroke-width="0.6" />
<text x="494.6" y="779.5" font-size="7.4" fill="#7a7a7a" text-anchor="end" style="font-family:'Liberation Serif',serif" stroke="#7a7a7a" stroke-width="0.22">600</text>
<line x1="496.0" y1="776.7" x2="497.5" y2="776.7" stroke="#bbb" stroke-width="0.6" />
<text x="494.6" y="798.0" font-size="7.4" fill="#7a7a7a" text-anchor="end" style="font-family:'Liberation Serif',serif" stroke="#7a7a7a" stroke-width="0.22">400</text>
<line x1="496.0" y1="795.2" x2="497.5" y2="795.2" stroke="#bbb" stroke-width="0.6" />
<text x="494.6" y="817.1" font-size="7.4" fill="#7a7a7a" text-anchor="end" style="font-family:'Liberation Serif',serif" stroke="#7a7a7a" stroke-width="0.22">200</text>
<line x1="496.0" y1="814.3" x2="497.5" y2="814.3" stroke="#bbb" stroke-width="0.6" />
<text x="494.6" y="835.6" font-size="7.4" fill="#7a7a7a" text-anchor="end" style="font-family:'Liberation Serif',serif" stroke="#7a7a7a" stroke-width="0.22">0</text>
<line x1="496.0" y1="832.8" x2="497.5" y2="832.8" stroke="#bbb" stroke-width="0.6" />
<polyline points="532.9,825.0 570.2,821.7 588.3,815.0 606.8,800.9 625.6,757.2 644.0,714.6" fill="none" stroke="#4a8fcc" stroke-width="1.2" stroke-linejoin="round" />
<text x="510.43" y="722.5" font-size="16" fill="#111" font-style="italic" style="font-family:'Liberation Serif',serif" textLength="9.63" lengthAdjust="spacingAndGlyphs" stroke="#111" stroke-width="0.22">α</text>
<text x="525.61" y="723" font-size="16" fill="#111" style="font-family:'Liberation Serif',serif" textLength="13.43" lengthAdjust="spacingAndGlyphs" stroke="#111" stroke-width="0.22">=</text>
<text x="543.64" y="722.5" font-size="16" fill="#111" style="font-family:'Liberation Serif',serif" textLength="21.61" lengthAdjust="spacingAndGlyphs" stroke="#111" stroke-width="0.22">0.7</text>
<text x="506.26" y="742.8" font-size="16" fill="#111" font-style="italic" style="font-family:'Liberation Serif',serif" textLength="8.56" lengthAdjust="spacingAndGlyphs" stroke="#111" stroke-width="0.22">r</text>
<text x="520.22" y="743.3" font-size="16" fill="#111" style="font-family:'Liberation Serif',serif" textLength="13.31" lengthAdjust="spacingAndGlyphs" stroke="#111" stroke-width="0.22">=</text>
<text x="537.60" y="742.8" font-size="16" fill="#111" style="font-family:'Liberation Serif',serif" textLength="32.09" lengthAdjust="spacingAndGlyphs" stroke="#111" stroke-width="0.22">0.36</text>
<text x="466.8" y="710.8" font-size="9.5" fill="#222" font-weight="bold" font-style="italic" style="font-family:'Liberation Serif',serif" stroke="#222" stroke-width="0.22">δ<tspan font-size="7.5" dy="1.3">n</tspan></text>
<text x="558.4" y="848" font-size="7.6" fill="#333" textLength="55.4" lengthAdjust="spacingAndGlyphs" stroke="#333" stroke-width="0.22">Generation time</text>
<text x="430.2" y="837" font-size="6.5" fill="#888" style="font-family:'Liberation Serif',serif" stroke="#888" stroke-width="0.22">)</text>
</svg></body></html>
